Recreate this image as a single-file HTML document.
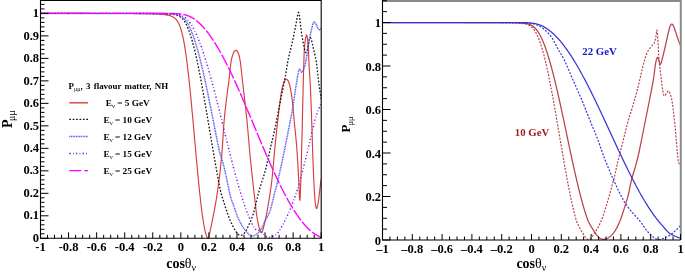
<!DOCTYPE html>
<html><head><meta charset="utf-8"><style>
html,body{margin:0;padding:0;background:#fff;width:685px;height:274px;overflow:hidden;}
svg{display:block;font-family:"Liberation Serif",serif;}
svg{will-change:transform;}
</style></head><body>
<svg width="685" height="274" viewBox="0 0 685 274">
<rect width="685" height="274" fill="#fff"/>
<defs><clipPath id="cl"><rect x="40.5" y="0" width="280.7" height="238.3"/></clipPath><clipPath id="cr"><rect x="382.5" y="0" width="298.0" height="240.0"/></clipPath></defs>
<g clip-path="url(#cl)" fill="none" stroke-width="1.1">
<path d="M40.50,13.42 L43.66,13.42 L46.82,13.42 L49.97,13.42 L53.13,13.42 L56.29,13.42 L59.45,13.42 L62.61,13.43 L65.76,13.43 L68.92,13.43 L72.08,13.43 L75.24,13.43 L78.39,13.44 L81.55,13.44 L84.71,13.44 L87.87,13.44 L91.03,13.45 L94.18,13.45 L97.34,13.45 L100.50,13.46 L103.66,13.46 L106.82,13.47 L109.97,13.47 L113.13,13.48 L116.29,13.49 L119.45,13.50 L122.60,13.51 L125.76,13.52 L128.92,13.53 L132.08,13.55 L135.24,13.57 L138.39,13.60 L141.55,13.63 L144.71,13.67 L147.87,13.73 L151.03,13.79 L154.18,13.89 L157.34,14.02 L160.50,14.20 L163.66,14.48 L166.11,14.81 L167.87,15.14 L169.27,15.48 L170.32,15.80 L171.20,16.11 L172.08,16.50 L172.78,16.85 L173.31,17.16 L173.83,17.50 L174.36,17.88 L174.89,18.30 L175.24,18.62 L175.59,18.96 L175.94,19.32 L176.29,19.72 L176.64,20.15 L176.99,20.61 L177.34,21.11 L177.69,21.65 L178.04,22.24 L178.22,22.55 L178.39,22.88 L178.57,23.21 L178.74,23.56 L178.92,23.92 L179.10,24.30 L179.27,24.69 L179.45,25.10 L179.62,25.52 L179.80,25.96 L179.97,26.41 L180.15,26.88 L180.32,27.37 L180.50,27.88 L180.67,28.40 L180.85,28.95 L181.03,29.51 L181.20,30.09 L181.38,30.69 L181.55,31.31 L181.73,31.96 L181.90,32.62 L182.08,33.31 L182.25,34.02 L182.43,34.75 L182.60,35.50 L182.78,36.27 L182.96,37.07 L183.13,37.90 L183.31,38.74 L183.48,39.62 L183.66,40.51 L183.83,41.43 L184.01,42.38 L184.18,43.35 L184.36,44.34 L184.53,45.36 L184.71,46.40 L184.89,47.47 L185.06,48.57 L185.24,49.69 L185.41,50.84 L185.59,52.01 L185.76,53.20 L185.94,54.43 L186.11,55.67 L186.29,56.94 L186.46,58.24 L186.64,59.56 L186.81,60.91 L186.99,62.28 L187.17,63.67 L187.34,65.09 L187.52,66.53 L187.69,67.99 L187.87,69.47 L188.04,70.98 L188.22,72.51 L188.39,74.07 L188.57,75.64 L188.74,77.23 L188.92,78.85 L189.10,80.48 L189.27,82.14 L189.45,83.81 L189.62,85.50 L189.80,87.21 L189.97,88.94 L190.15,90.69 L190.32,92.45 L190.50,94.22 L190.67,96.02 L190.85,97.82 L191.03,99.64 L191.20,101.48 L191.38,103.33 L191.55,105.19 L191.73,107.06 L191.90,108.94 L192.08,110.84 L192.25,112.74 L192.43,114.65 L192.60,116.57 L192.78,118.50 L192.96,120.44 L193.13,122.38 L193.31,124.33 L193.48,126.28 L193.66,128.24 L193.83,130.20 L194.01,132.16 L194.18,134.13 L194.36,136.10 L194.53,138.06 L194.71,140.03 L194.89,142.00 L195.06,143.97 L195.24,145.93 L195.41,147.89 L195.59,149.85 L195.76,151.80 L195.94,153.75 L196.11,155.69 L196.29,157.62 L196.46,159.55 L196.64,161.47 L196.81,163.38 L196.99,165.28 L197.17,167.17 L197.34,169.05 L197.52,170.92 L197.69,172.77 L197.87,174.62 L198.04,176.45 L198.22,178.26 L198.39,180.06 L198.57,181.84 L198.74,183.61 L198.92,185.36 L199.10,187.09 L199.27,188.80 L199.45,190.49 L199.62,192.16 L199.80,193.81 L199.97,195.45 L200.15,197.05 L200.32,198.64 L200.50,200.20 L200.67,201.74 L200.85,203.26 L201.03,204.74 L201.20,206.21 L201.38,207.65 L201.55,209.06 L201.73,210.44 L201.90,211.79 L202.08,213.12 L202.25,214.42 L202.43,215.69 L202.60,216.93 L202.78,218.13 L202.96,219.31 L203.13,220.46 L203.31,221.57 L203.48,222.65 L203.66,223.70 L203.83,224.71 L204.01,225.69 L204.18,226.64 L204.36,227.55 L204.53,228.43 L204.71,229.27 L204.88,230.08 L205.06,230.85 L205.24,231.58 L205.41,232.28 L205.59,232.94 L205.76,233.56 L205.94,234.15 L206.11,234.70 L206.29,235.21 L206.46,235.68 L206.64,236.11 L206.81,236.51 L206.99,236.86 L207.17,237.18 L207.52,237.70 L207.87,238.05 L208.57,238.30 L208.57,238.30 L209.21,235.36 L210.05,231.47 L211.03,226.83 L212.11,221.66 L213.22,216.18 L214.31,210.60 L215.32,205.13 L216.20,200.00 L216.97,195.08 L217.70,190.12 L218.39,185.12 L219.05,180.11 L219.66,175.07 L220.24,170.04 L220.79,165.01 L221.30,160.00 L221.77,154.90 L222.18,149.65 L222.55,144.34 L222.89,139.06 L223.22,133.90 L223.53,128.95 L223.86,124.28 L224.20,120.00 L224.56,116.09 L224.93,112.46 L225.29,109.09 L225.66,105.94 L226.01,102.98 L226.36,100.20 L226.69,97.54 L227.00,95.00 L227.29,92.67 L227.56,90.62 L227.81,88.77 L228.05,87.06 L228.29,85.41 L228.52,83.73 L228.76,81.95 L229.00,80.00 L229.25,77.83 L229.49,75.50 L229.73,73.07 L229.97,70.62 L230.21,68.22 L230.46,65.94 L230.73,63.84 L231.00,62.00 L231.29,60.40 L231.59,58.97 L231.91,57.69 L232.22,56.54 L232.55,55.52 L232.87,54.60 L233.19,53.76 L233.50,53.00 L233.81,52.32 L234.11,51.76 L234.41,51.29 L234.71,50.92 L235.01,50.64 L235.31,50.45 L235.61,50.34 L235.90,50.30 L236.19,50.34 L236.49,50.47 L236.78,50.68 L237.07,50.98 L237.36,51.36 L237.65,51.83 L237.93,52.37 L238.20,53.00 L238.46,53.67 L238.72,54.37 L238.96,55.13 L239.21,55.98 L239.45,56.96 L239.69,58.10 L239.94,59.44 L240.20,61.00 L240.45,62.71 L240.68,64.48 L240.91,66.40 L241.14,68.50 L241.40,70.85 L241.68,73.52 L242.01,76.54 L242.40,80.00 L242.86,84.00 L243.38,88.52 L243.96,93.46 L244.56,98.69 L245.18,104.08 L245.78,109.51 L246.36,114.86 L246.90,120.00 L247.39,125.00 L247.84,130.00 L248.28,135.00 L248.71,140.00 L249.13,145.00 L249.56,150.00 L250.02,155.00 L250.50,160.00 L251.02,165.14 L251.59,170.47 L252.17,175.88 L252.76,181.25 L253.35,186.46 L253.91,191.41 L254.43,195.96 L254.90,200.00 L255.30,203.51 L255.65,206.58 L255.95,209.29 L256.24,211.72 L256.52,213.93 L256.81,216.00 L257.13,218.00 L257.50,220.00 L257.92,222.09 L258.36,224.24 L258.83,226.34 L259.31,228.28 L259.81,229.97 L260.31,231.31 L260.81,232.19 L261.30,232.50 L261.79,232.19 L262.29,231.31 L262.80,229.97 L263.31,228.28 L263.81,226.34 L264.32,224.24 L264.81,222.09 L265.30,220.00 L265.78,217.86 L266.26,215.53 L266.74,213.05 L267.22,210.47 L267.68,207.83 L268.14,205.18 L268.58,202.55 L269.00,200.00 L269.40,197.55 L269.79,195.19 L270.16,192.85 L270.52,190.50 L270.87,188.09 L271.21,185.56 L271.56,182.88 L271.90,180.00 L272.24,176.83 L272.59,173.38 L272.92,169.74 L273.26,166.01 L273.58,162.27 L273.90,158.63 L274.21,155.18 L274.50,152.00 L274.77,149.20 L275.00,146.74 L275.21,144.49 L275.41,142.32 L275.63,140.10 L275.87,137.71 L276.16,135.02 L276.50,131.90 L276.91,128.19 L277.39,123.93 L277.91,119.32 L278.45,114.57 L279.00,109.86 L279.54,105.40 L280.04,101.38 L280.50,98.00 L280.91,95.23 L281.28,92.88 L281.62,90.88 L281.96,89.18 L282.28,87.69 L282.61,86.38 L282.94,85.17 L283.30,84.00 L283.67,82.90 L284.05,81.94 L284.44,81.12 L284.83,80.45 L285.22,79.93 L285.62,79.56 L286.01,79.35 L286.40,79.30 L286.79,79.41 L287.18,79.66 L287.58,80.07 L287.97,80.64 L288.37,81.36 L288.75,82.24 L289.13,83.29 L289.50,84.50 L289.86,85.89 L290.21,87.45 L290.56,89.18 L290.90,91.08 L291.23,93.11 L291.56,95.29 L291.88,97.59 L292.20,100.00 L292.51,102.59 L292.80,105.40 L293.09,108.38 L293.37,111.47 L293.66,114.63 L293.93,117.80 L294.22,120.94 L294.50,124.00 L294.79,126.96 L295.09,129.86 L295.38,132.74 L295.68,135.62 L295.97,138.56 L296.26,141.58 L296.54,144.71 L296.80,148.00 L297.05,151.51 L297.30,155.25 L297.54,159.14 L297.77,163.09 L297.99,167.04 L298.20,170.89 L298.41,174.57 L298.60,178.00 L298.78,181.48 L298.94,185.21 L299.10,188.96 L299.24,192.53 L299.38,195.69 L299.52,198.21 L299.66,199.89 L299.80,200.50 L299.94,199.89 L300.09,198.21 L300.23,195.69 L300.38,192.53 L300.51,188.96 L300.65,185.21 L300.78,181.48 L300.90,178.00 L301.01,174.63 L301.12,171.10 L301.22,167.43 L301.32,163.66 L301.41,159.80 L301.51,155.89 L301.60,151.94 L301.70,148.00 L301.80,144.00 L301.90,139.89 L302.00,135.71 L302.11,131.50 L302.21,127.29 L302.31,123.11 L302.40,119.00 L302.50,115.00 L302.59,111.04 L302.68,107.08 L302.77,103.13 L302.86,99.25 L302.95,95.46 L303.03,91.80 L303.12,88.30 L303.20,85.00 L303.28,81.92 L303.35,79.05 L303.42,76.33 L303.49,73.75 L303.56,71.26 L303.64,68.83 L303.72,66.42 L303.80,64.00 L303.88,61.56 L303.96,59.12 L304.03,56.72 L304.11,54.38 L304.20,52.11 L304.31,49.94 L304.44,47.89 L304.60,46.00 L304.80,44.14 L305.03,42.24 L305.28,40.40 L305.55,38.69 L305.83,37.21 L306.10,36.04 L306.36,35.27 L306.60,35.00 L306.82,35.27 L307.05,36.04 L307.26,37.21 L307.48,38.69 L307.68,40.40 L307.87,42.24 L308.04,44.14 L308.20,46.00 L308.34,47.93 L308.45,50.05 L308.55,52.33 L308.64,54.69 L308.72,57.09 L308.80,59.48 L308.90,61.80 L309.00,64.00 L309.12,66.09 L309.24,68.12 L309.37,70.10 L309.50,72.06 L309.63,74.01 L309.76,75.98 L309.88,77.97 L310.00,80.00 L310.11,81.97 L310.20,83.80 L310.30,85.60 L310.39,87.44 L310.48,89.41 L310.58,91.60 L310.68,94.10 L310.80,97.00 L310.93,100.45 L311.09,104.43 L311.25,108.77 L311.41,113.31 L311.58,117.87 L311.73,122.29 L311.88,126.39 L312.00,130.00 L312.10,133.05 L312.18,135.68 L312.24,138.01 L312.30,140.19 L312.36,142.34 L312.42,144.60 L312.50,147.11 L312.60,150.00 L312.72,153.34 L312.86,157.03 L313.01,160.96 L313.16,165.00 L313.32,169.04 L313.49,172.97 L313.65,176.66 L313.80,180.00 L313.95,183.06 L314.09,185.98 L314.24,188.74 L314.38,191.35 L314.53,193.79 L314.68,196.05 L314.84,198.12 L315.00,200.00 L315.17,201.71 L315.35,203.26 L315.53,204.65 L315.71,205.85 L315.90,206.84 L316.10,207.61 L316.30,208.14 L316.50,208.40 L316.71,208.39 L316.92,208.11 L317.14,207.59 L317.36,206.85 L317.58,205.90 L317.81,204.76 L318.05,203.46 L318.30,202.00 L318.56,200.22 L318.85,198.03 L319.15,195.57 L319.45,192.97 L319.75,190.38 L320.03,187.93 L320.28,185.76 L320.50,184.00 L320.69,182.63 L320.86,181.52 L321.01,180.61 L321.14,179.88 L321.25,179.28 L321.35,178.80 L321.43,178.38 L321.50,178.00" stroke="#d83c3c" stroke-width="1.15"/>
<path d="M40.50,13.40 L43.66,13.40 L46.82,13.40 L49.97,13.41 L53.13,13.41 L56.29,13.41 L59.45,13.41 L62.61,13.41 L65.76,13.41 L68.92,13.41 L72.08,13.41 L75.24,13.41 L78.39,13.41 L81.55,13.41 L84.71,13.41 L87.87,13.41 L91.03,13.41 L94.18,13.41 L97.34,13.41 L100.50,13.41 L103.66,13.41 L106.82,13.42 L109.97,13.42 L113.13,13.42 L116.29,13.42 L119.45,13.42 L122.60,13.43 L125.76,13.43 L128.92,13.43 L132.08,13.44 L135.24,13.44 L138.39,13.45 L141.55,13.46 L144.71,13.47 L147.87,13.48 L151.03,13.50 L154.18,13.52 L157.34,13.55 L160.50,13.60 L163.66,13.66 L166.81,13.77 L169.97,13.96 L172.96,14.27 L174.89,14.60 L176.29,14.94 L177.34,15.29 L178.22,15.65 L178.92,15.99 L179.62,16.38 L180.15,16.72 L180.67,17.11 L181.20,17.53 L181.55,17.84 L181.90,18.17 L182.25,18.53 L182.60,18.90 L182.96,19.31 L183.31,19.74 L183.66,20.19 L184.01,20.68 L184.36,21.19 L184.71,21.73 L185.06,22.30 L185.41,22.91 L185.59,23.22 L185.76,23.54 L185.94,23.87 L186.11,24.20 L186.29,24.54 L186.46,24.90 L186.64,25.26 L186.81,25.62 L186.99,26.00 L187.17,26.38 L187.34,26.77 L187.52,27.17 L187.69,27.58 L187.87,28.00 L188.04,28.42 L188.22,28.85 L188.39,29.29 L188.57,29.74 L188.74,30.20 L188.92,30.66 L189.10,31.14 L189.27,31.62 L189.45,32.11 L189.62,32.61 L189.80,33.11 L189.97,33.63 L190.15,34.15 L190.32,34.68 L190.50,35.22 L190.67,35.76 L190.85,36.32 L191.03,36.88 L191.20,37.45 L191.38,38.03 L191.55,38.62 L191.73,39.21 L191.90,39.81 L192.08,40.42 L192.25,41.04 L192.43,41.67 L192.60,42.30 L192.78,42.94 L192.96,43.59 L193.13,44.24 L193.31,44.91 L193.48,45.58 L193.66,46.26 L193.83,46.94 L194.01,47.64 L194.18,48.34 L194.36,49.04 L194.53,49.76 L194.71,50.48 L194.89,51.21 L195.06,51.95 L195.24,52.69 L195.41,53.44 L195.59,54.19 L195.76,54.96 L195.94,55.73 L196.11,56.50 L196.29,57.29 L196.46,58.08 L196.64,58.87 L196.81,59.67 L196.99,60.48 L197.17,61.30 L197.34,62.12 L197.52,62.94 L197.69,63.78 L197.87,64.62 L198.04,65.46 L198.22,66.31 L198.39,67.17 L198.57,68.03 L198.74,68.90 L198.92,69.77 L199.10,70.65 L199.27,71.53 L199.45,72.42 L199.62,73.32 L199.80,74.21 L199.97,75.12 L200.15,76.03 L200.32,76.94 L200.50,77.86 L200.67,78.78 L200.85,79.71 L201.03,80.64 L201.20,81.58 L201.38,82.52 L201.55,83.47 L201.73,84.42 L201.90,85.37 L202.08,86.33 L202.25,87.29 L202.43,88.26 L202.60,89.23 L202.78,90.20 L202.96,91.18 L203.13,92.16 L203.31,93.14 L203.48,94.13 L203.66,95.12 L203.83,96.11 L204.01,97.11 L204.18,98.11 L204.36,99.11 L204.53,100.12 L204.71,101.12 L204.88,102.13 L205.06,103.15 L205.24,104.16 L205.41,105.18 L205.59,106.20 L205.76,107.22 L205.94,108.24 L206.11,109.27 L206.29,110.30 L206.46,111.33 L206.64,112.36 L206.81,113.39 L206.99,114.42 L207.17,115.46 L207.34,116.50 L207.52,117.54 L207.69,118.57 L207.87,119.61 L208.04,120.66 L208.22,121.70 L208.39,122.74 L208.57,123.78 L208.74,124.83 L208.92,125.87 L209.10,126.92 L209.27,127.96 L209.45,129.00 L209.62,130.05 L209.80,131.09 L209.97,132.14 L210.15,133.18 L210.32,134.23 L210.50,135.27 L210.67,136.31 L210.85,137.36 L211.03,138.40 L211.20,139.44 L211.38,140.48 L211.55,141.52 L211.73,142.56 L211.90,143.59 L212.08,144.63 L212.25,145.66 L212.43,146.70 L212.60,147.73 L212.78,148.76 L212.96,149.78 L213.13,150.81 L213.31,151.83 L213.48,152.85 L213.66,153.87 L213.83,154.89 L214.01,155.91 L214.18,156.92 L214.36,157.93 L214.53,158.94 L214.71,159.94 L214.88,160.94 L215.06,161.94 L215.24,162.94 L215.41,163.93 L215.59,164.92 L215.76,165.91 L215.94,166.89 L216.11,167.87 L216.29,168.85 L216.46,169.82 L216.64,170.79 L216.81,171.75 L216.99,172.71 L217.17,173.67 L217.34,174.62 L217.52,175.57 L217.69,176.52 L217.87,177.46 L218.04,178.39 L218.22,179.33 L218.39,180.25 L218.57,181.18 L218.74,182.09 L218.92,183.01 L219.10,183.91 L219.27,184.82 L219.45,185.71 L219.62,186.61 L219.80,187.49 L219.97,188.38 L220.15,189.25 L220.32,190.12 L220.50,190.99 L220.67,191.85 L220.85,192.70 L220.85,192.70 L221.32,194.23 L221.96,196.27 L222.70,198.68 L223.53,201.33 L224.39,204.07 L225.25,206.75 L226.07,209.24 L226.80,211.40 L227.46,213.28 L228.10,215.03 L228.71,216.67 L229.31,218.22 L229.90,219.69 L230.49,221.10 L231.09,222.47 L231.70,223.80 L232.33,225.11 L232.97,226.39 L233.62,227.63 L234.26,228.80 L234.90,229.90 L235.52,230.91 L236.13,231.81 L236.70,232.60 L237.24,233.28 L237.74,233.86 L238.23,234.35 L238.69,234.74 L239.16,235.05 L239.62,235.26 L240.10,235.37 L240.60,235.40 L241.12,235.33 L241.64,235.17 L242.17,234.92 L242.71,234.58 L243.25,234.14 L243.79,233.61 L244.35,233.00 L244.90,232.30 L245.47,231.48 L246.05,230.51 L246.64,229.44 L247.24,228.28 L247.83,227.08 L248.41,225.86 L248.97,224.66 L249.50,223.50 L250.01,222.37 L250.52,221.24 L251.01,220.11 L251.48,218.96 L251.94,217.81 L252.38,216.65 L252.80,215.48 L253.20,214.30 L253.57,213.10 L253.91,211.89 L254.23,210.67 L254.53,209.44 L254.82,208.21 L255.11,206.97 L255.40,205.73 L255.70,204.50 L256.00,203.28 L256.29,202.07 L256.57,200.87 L256.85,199.66 L257.14,198.43 L257.44,197.19 L257.76,195.91 L258.10,194.60 L258.46,193.25 L258.84,191.87 L259.24,190.47 L259.64,189.05 L260.06,187.60 L260.50,186.12 L260.94,184.62 L261.40,183.10 L261.87,181.59 L262.36,180.10 L262.86,178.61 L263.38,177.08 L263.90,175.49 L264.43,173.80 L264.96,171.98 L265.50,170.00 L266.04,167.83 L266.59,165.49 L267.15,163.01 L267.72,160.43 L268.29,157.80 L268.86,155.16 L269.43,152.55 L270.00,150.00 L270.57,147.53 L271.13,145.12 L271.70,142.72 L272.27,140.31 L272.84,137.87 L273.42,135.35 L274.01,132.74 L274.60,130.00 L275.21,127.11 L275.82,124.10 L276.45,120.99 L277.08,117.81 L277.71,114.59 L278.34,111.37 L278.97,108.16 L279.60,105.00 L280.25,101.77 L280.93,98.40 L281.62,94.97 L282.30,91.56 L282.96,88.28 L283.58,85.20 L284.13,82.41 L284.60,80.00 L284.98,78.05 L285.27,76.49 L285.50,75.24 L285.68,74.19 L285.84,73.24 L286.00,72.29 L286.18,71.24 L286.40,70.00 L286.63,68.64 L286.85,67.28 L287.07,65.91 L287.29,64.50 L287.54,63.03 L287.81,61.47 L288.13,59.80 L288.50,58.00 L288.94,56.02 L289.45,53.88 L290.00,51.60 L290.58,49.25 L291.17,46.87 L291.75,44.50 L292.30,42.20 L292.80,40.00 L293.26,37.87 L293.69,35.76 L294.11,33.66 L294.51,31.60 L294.89,29.59 L295.27,27.64 L295.64,25.78 L296.00,24.00 L296.36,22.17 L296.71,20.20 L297.05,18.23 L297.38,16.36 L297.70,14.73 L298.01,13.44 L298.31,12.62 L298.60,12.40 L298.88,12.88 L299.14,14.00 L299.40,15.60 L299.64,17.55 L299.88,19.69 L300.12,21.88 L300.36,23.96 L300.60,25.80 L300.84,27.48 L301.08,29.18 L301.31,30.88 L301.54,32.58 L301.78,34.26 L302.01,35.89 L302.25,37.48 L302.50,39.00 L302.76,40.49 L303.03,41.99 L303.31,43.46 L303.59,44.89 L303.87,46.23 L304.13,47.47 L304.38,48.56 L304.60,49.50 L304.79,50.27 L304.96,50.91 L305.11,51.42 L305.24,51.81 L305.37,52.11 L305.51,52.31 L305.65,52.44 L305.80,52.50 L305.96,52.49 L306.13,52.39 L306.30,52.21 L306.47,51.94 L306.65,51.58 L306.83,51.14 L307.01,50.61 L307.20,50.00 L307.39,49.24 L307.59,48.30 L307.79,47.25 L307.99,46.12 L308.20,44.99 L308.40,43.88 L308.60,42.87 L308.80,42.00 L308.99,41.20 L309.17,40.39 L309.35,39.62 L309.53,38.91 L309.71,38.30 L309.90,37.84 L310.09,37.56 L310.30,37.50 L310.52,37.71 L310.76,38.16 L311.01,38.81 L311.26,39.59 L311.51,40.46 L311.76,41.36 L311.99,42.22 L312.20,43.00 L312.39,43.72 L312.56,44.44 L312.71,45.17 L312.86,45.91 L313.01,46.65 L313.16,47.42 L313.32,48.20 L313.50,49.00 L313.70,49.83 L313.91,50.68 L314.13,51.55 L314.35,52.44 L314.57,53.33 L314.79,54.23 L315.00,55.12 L315.20,56.00 L315.38,56.86 L315.56,57.69 L315.73,58.52 L315.89,59.34 L316.04,60.19 L316.20,61.07 L316.35,62.01 L316.50,63.00 L316.65,64.06 L316.79,65.18 L316.92,66.34 L317.06,67.53 L317.19,68.75 L317.32,70.00 L317.46,71.25 L317.60,72.50 L317.74,73.77 L317.89,75.07 L318.03,76.39 L318.18,77.72 L318.32,79.06 L318.48,80.39 L318.63,81.70 L318.80,83.00 L318.98,84.29 L319.16,85.61 L319.35,86.92 L319.55,88.22 L319.75,89.49 L319.94,90.72 L320.12,91.90 L320.30,93.00 L320.47,94.07 L320.65,95.12 L320.82,96.15 L320.99,97.12 L321.15,98.02 L321.29,98.81 L321.41,99.48 L321.50,100.00" stroke="#151515" stroke-width="1.3" stroke-dasharray="1.7,1.7"/>
<path d="M40.50,13.40 L43.66,13.40 L46.82,13.40 L49.97,13.40 L53.13,13.40 L56.29,13.40 L59.45,13.40 L62.61,13.40 L65.76,13.40 L68.92,13.41 L72.08,13.41 L75.24,13.41 L78.39,13.41 L81.55,13.41 L84.71,13.41 L87.87,13.41 L91.03,13.41 L94.18,13.41 L97.34,13.41 L100.50,13.41 L103.66,13.41 L106.82,13.41 L109.97,13.41 L113.13,13.41 L116.29,13.42 L119.45,13.42 L122.60,13.42 L125.76,13.42 L128.92,13.42 L132.08,13.43 L135.24,13.43 L138.39,13.43 L141.55,13.44 L144.71,13.45 L147.87,13.46 L151.03,13.47 L154.18,13.48 L157.34,13.51 L160.50,13.54 L163.66,13.59 L166.81,13.67 L169.97,13.80 L173.13,14.04 L175.41,14.34 L176.99,14.66 L178.22,15.01 L179.10,15.32 L179.97,15.70 L180.67,16.05 L181.20,16.36 L181.73,16.70 L182.25,17.07 L182.78,17.49 L183.31,17.95 L183.66,18.27 L184.01,18.62 L184.36,18.99 L184.71,19.38 L185.06,19.79 L185.41,20.23 L185.76,20.68 L186.11,21.16 L186.46,21.66 L186.81,22.19 L187.17,22.74 L187.52,23.31 L187.87,23.91 L188.04,24.21 L188.22,24.53 L188.39,24.85 L188.57,25.17 L188.74,25.50 L188.92,25.84 L189.10,26.18 L189.27,26.53 L189.45,26.89 L189.62,27.25 L189.80,27.62 L189.97,27.99 L190.15,28.37 L190.32,28.76 L190.50,29.15 L190.67,29.55 L190.85,29.96 L191.03,30.37 L191.20,30.78 L191.38,31.21 L191.55,31.64 L191.73,32.07 L191.90,32.51 L192.08,32.96 L192.25,33.41 L192.43,33.87 L192.60,34.34 L192.78,34.81 L192.96,35.28 L193.13,35.76 L193.31,36.25 L193.48,36.75 L193.66,37.25 L193.83,37.75 L194.01,38.26 L194.18,38.78 L194.36,39.30 L194.53,39.83 L194.71,40.37 L194.89,40.91 L195.06,41.45 L195.24,42.00 L195.41,42.56 L195.59,43.12 L195.76,43.69 L195.94,44.26 L196.11,44.84 L196.29,45.42 L196.46,46.01 L196.64,46.61 L196.81,47.21 L196.99,47.81 L197.17,48.42 L197.34,49.04 L197.52,49.66 L197.69,50.28 L197.87,50.91 L198.04,51.55 L198.22,52.19 L198.39,52.83 L198.57,53.48 L198.74,54.14 L198.92,54.80 L199.10,55.46 L199.27,56.13 L199.45,56.80 L199.62,57.48 L199.80,58.17 L199.97,58.85 L200.15,59.55 L200.32,60.24 L200.50,60.94 L200.67,61.65 L200.85,62.36 L201.03,63.07 L201.20,63.79 L201.38,64.52 L201.55,65.24 L201.73,65.97 L201.90,66.71 L202.08,67.45 L202.25,68.19 L202.43,68.94 L202.60,69.69 L202.78,70.44 L202.96,71.20 L203.13,71.96 L203.31,72.73 L203.48,73.50 L203.66,74.27 L203.83,75.05 L204.01,75.83 L204.18,76.61 L204.36,77.40 L204.53,78.19 L204.71,78.98 L204.88,79.78 L205.06,80.58 L205.24,81.38 L205.41,82.19 L205.59,83.00 L205.76,83.81 L205.94,84.62 L206.11,85.44 L206.29,86.26 L206.46,87.09 L206.64,87.91 L206.81,88.74 L206.99,89.57 L207.17,90.41 L207.34,91.24 L207.52,92.08 L207.69,92.92 L207.87,93.77 L208.04,94.61 L208.22,95.46 L208.39,96.31 L208.57,97.16 L208.74,98.02 L208.92,98.87 L209.10,99.73 L209.27,100.59 L209.45,101.45 L209.62,102.32 L209.80,103.18 L209.97,104.05 L210.15,104.92 L210.32,105.79 L210.50,106.66 L210.67,107.53 L210.85,108.41 L211.03,109.28 L211.20,110.16 L211.38,111.04 L211.55,111.92 L211.73,112.80 L211.90,113.68 L212.08,114.56 L212.25,115.45 L212.43,116.33 L212.60,117.22 L212.78,118.10 L212.96,118.99 L213.13,119.88 L213.31,120.76 L213.48,121.65 L213.66,122.54 L213.83,123.43 L214.01,124.32 L214.18,125.21 L214.36,126.10 L214.53,126.99 L214.71,127.88 L214.88,128.77 L215.06,129.66 L215.24,130.55 L215.41,131.44 L215.59,132.33 L215.76,133.22 L215.94,134.11 L216.11,135.00 L216.29,135.89 L216.46,136.77 L216.64,137.66 L216.81,138.55 L216.99,139.43 L217.17,140.32 L217.34,141.20 L217.52,142.09 L217.69,142.97 L217.87,143.85 L218.04,144.73 L218.22,145.61 L218.39,146.49 L218.57,147.37 L218.74,148.25 L218.92,149.12 L219.10,150.00 L219.27,150.87 L219.27,150.87 L219.66,152.17 L220.17,153.80 L220.77,155.71 L221.43,157.86 L222.14,160.21 L222.87,162.73 L223.60,165.37 L224.30,168.10 L225.01,171.12 L225.75,174.54 L226.53,178.23 L227.31,182.01 L228.07,185.73 L228.81,189.24 L229.49,192.38 L230.10,195.00 L230.63,197.04 L231.08,198.63 L231.49,199.89 L231.86,200.91 L232.21,201.82 L232.58,202.71 L232.97,203.70 L233.40,204.90 L233.87,206.27 L234.35,207.70 L234.84,209.17 L235.35,210.65 L235.87,212.13 L236.40,213.60 L236.94,215.03 L237.50,216.40 L238.07,217.74 L238.67,219.07 L239.27,220.38 L239.89,221.66 L240.52,222.91 L241.15,224.10 L241.78,225.24 L242.40,226.30 L243.02,227.30 L243.65,228.24 L244.27,229.13 L244.90,229.96 L245.53,230.75 L246.15,231.48 L246.78,232.16 L247.40,232.80 L248.02,233.40 L248.63,233.98 L249.24,234.52 L249.86,235.01 L250.47,235.42 L251.08,235.75 L251.69,235.98 L252.30,236.10 L252.92,236.09 L253.54,235.96 L254.17,235.73 L254.80,235.42 L255.42,235.04 L256.03,234.62 L256.63,234.16 L257.20,233.70 L257.75,233.22 L258.28,232.72 L258.79,232.18 L259.29,231.59 L259.79,230.96 L260.29,230.27 L260.79,229.52 L261.30,228.70 L261.82,227.78 L262.35,226.77 L262.87,225.68 L263.40,224.54 L263.93,223.37 L264.45,222.21 L264.98,221.08 L265.50,220.00 L266.02,218.99 L266.55,218.04 L267.08,217.12 L267.60,216.21 L268.12,215.26 L268.63,214.26 L269.12,213.19 L269.60,212.00 L270.07,210.66 L270.54,209.16 L271.01,207.57 L271.46,205.94 L271.89,204.31 L272.29,202.74 L272.67,201.29 L273.00,200.00 L273.27,198.93 L273.48,198.04 L273.65,197.27 L273.80,196.56 L273.95,195.84 L274.12,195.05 L274.33,194.13 L274.60,193.00 L274.92,191.74 L275.27,190.45 L275.65,189.09 L276.06,187.62 L276.49,186.02 L276.96,184.23 L277.46,182.24 L278.00,180.00 L278.59,177.45 L279.24,174.59 L279.93,171.50 L280.65,168.25 L281.38,164.90 L282.11,161.53 L282.82,158.21 L283.50,155.00 L284.15,151.85 L284.80,148.68 L285.45,145.49 L286.08,142.31 L286.71,139.16 L287.32,136.04 L287.92,132.98 L288.50,130.00 L289.07,127.11 L289.63,124.29 L290.17,121.53 L290.71,118.81 L291.23,116.12 L291.73,113.43 L292.22,110.73 L292.70,108.00 L293.16,105.21 L293.59,102.37 L294.01,99.50 L294.42,96.65 L294.82,93.84 L295.21,91.11 L295.60,88.48 L296.00,86.00 L296.40,83.55 L296.80,81.06 L297.19,78.60 L297.59,76.26 L297.98,74.10 L298.36,72.23 L298.73,70.70 L299.10,69.60 L299.46,69.08 L299.81,69.12 L300.15,69.57 L300.48,70.26 L300.81,71.03 L301.14,71.74 L301.47,72.21 L301.80,72.30 L302.14,72.03 L302.48,71.58 L302.82,70.97 L303.16,70.26 L303.50,69.46 L303.82,68.63 L304.12,67.80 L304.40,67.00 L304.65,66.28 L304.86,65.64 L305.05,65.00 L305.23,64.33 L305.41,63.54 L305.61,62.60 L305.84,61.44 L306.10,60.00 L306.41,58.18 L306.76,55.99 L307.13,53.54 L307.52,50.95 L307.92,48.33 L308.30,45.81 L308.67,43.49 L309.00,41.50 L309.30,39.82 L309.57,38.34 L309.82,37.02 L310.07,35.81 L310.31,34.68 L310.56,33.58 L310.82,32.47 L311.10,31.30 L311.40,30.03 L311.72,28.68 L312.04,27.31 L312.38,25.97 L312.71,24.73 L313.05,23.65 L313.38,22.78 L313.70,22.20 L314.02,21.92 L314.33,21.91 L314.64,22.10 L314.94,22.46 L315.25,22.92 L315.56,23.45 L315.88,24.00 L316.20,24.50 L316.53,25.06 L316.86,25.76 L317.20,26.54 L317.54,27.35 L317.89,28.13 L318.23,28.82 L318.57,29.36 L318.90,29.70 L319.25,29.81 L319.62,29.72 L320.00,29.49 L320.37,29.17 L320.72,28.82 L321.04,28.47 L321.30,28.18 L321.50,28.00" stroke="#5252f2" stroke-width="1.5" stroke-dasharray="1,0.65"/>
<path d="M40.50,13.40 L43.66,13.40 L46.82,13.40 L49.97,13.40 L53.13,13.40 L56.29,13.40 L59.45,13.40 L62.61,13.40 L65.76,13.40 L68.92,13.40 L72.08,13.40 L75.24,13.40 L78.39,13.40 L81.55,13.40 L84.71,13.40 L87.87,13.40 L91.03,13.41 L94.18,13.41 L97.34,13.41 L100.50,13.41 L103.66,13.41 L106.82,13.41 L109.97,13.41 L113.13,13.41 L116.29,13.41 L119.45,13.41 L122.60,13.41 L125.76,13.41 L128.92,13.41 L132.08,13.42 L135.24,13.42 L138.39,13.42 L141.55,13.43 L144.71,13.43 L147.87,13.44 L151.03,13.44 L154.18,13.45 L157.34,13.47 L160.50,13.49 L163.66,13.52 L166.81,13.57 L169.97,13.65 L173.13,13.81 L176.29,14.11 L178.22,14.43 L179.62,14.76 L180.67,15.09 L181.55,15.43 L182.25,15.75 L182.96,16.11 L183.48,16.41 L184.01,16.74 L184.53,17.10 L185.06,17.49 L185.59,17.91 L185.94,18.21 L186.29,18.53 L186.64,18.86 L186.99,19.20 L187.34,19.56 L187.69,19.94 L188.04,20.33 L188.39,20.74 L188.74,21.16 L189.10,21.61 L189.45,22.06 L189.80,22.53 L190.15,23.02 L190.50,23.53 L190.85,24.05 L191.20,24.59 L191.55,25.14 L191.90,25.71 L192.25,26.30 L192.60,26.90 L192.78,27.21 L192.96,27.52 L193.13,27.83 L193.31,28.15 L193.48,28.48 L193.66,28.80 L193.83,29.13 L194.01,29.47 L194.18,29.81 L194.36,30.15 L194.53,30.50 L194.71,30.85 L194.89,31.21 L195.06,31.56 L195.24,31.93 L195.41,32.29 L195.59,32.66 L195.76,33.04 L195.94,33.42 L196.11,33.80 L196.29,34.19 L196.46,34.58 L196.64,34.97 L196.81,35.37 L196.99,35.77 L197.17,36.17 L197.34,36.58 L197.52,36.99 L197.69,37.41 L197.87,37.83 L198.04,38.25 L198.22,38.68 L198.39,39.11 L198.57,39.55 L198.74,39.98 L198.92,40.43 L199.10,40.87 L199.27,41.32 L199.45,41.77 L199.62,42.23 L199.80,42.69 L199.97,43.15 L200.15,43.62 L200.32,44.09 L200.50,44.56 L200.67,45.04 L200.85,45.52 L201.03,46.00 L201.20,46.49 L201.38,46.98 L201.55,47.47 L201.73,47.97 L201.90,48.47 L202.08,48.97 L202.25,49.48 L202.43,49.99 L202.60,50.50 L202.78,51.02 L202.96,51.54 L203.13,52.06 L203.31,52.59 L203.48,53.12 L203.66,53.65 L203.83,54.18 L204.01,54.72 L204.18,55.26 L204.36,55.81 L204.53,56.36 L204.71,56.91 L204.88,57.46 L205.06,58.01 L205.24,58.57 L205.41,59.14 L205.59,59.70 L205.76,60.27 L205.94,60.84 L206.11,61.41 L206.29,61.99 L206.46,62.56 L206.64,63.15 L206.81,63.73 L206.99,64.32 L207.17,64.91 L207.34,65.50 L207.52,66.09 L207.69,66.69 L207.87,67.29 L208.04,67.89 L208.22,68.49 L208.39,69.10 L208.57,69.71 L208.74,70.32 L208.92,70.94 L209.10,71.55 L209.27,72.17 L209.45,72.79 L209.62,73.42 L209.80,74.04 L209.97,74.67 L210.15,75.30 L210.32,75.93 L210.50,76.57 L210.67,77.20 L210.85,77.84 L211.03,78.48 L211.20,79.12 L211.38,79.77 L211.55,80.41 L211.73,81.06 L211.90,81.71 L212.08,82.37 L212.25,83.02 L212.43,83.68 L212.60,84.33 L212.78,84.99 L212.96,85.66 L213.13,86.32 L213.31,86.98 L213.48,87.65 L213.66,88.32 L213.83,88.99 L214.01,89.66 L214.18,90.34 L214.36,91.01 L214.53,91.69 L214.71,92.36 L214.88,93.04 L215.06,93.72 L215.24,94.41 L215.41,95.09 L215.59,95.77 L215.76,96.46 L215.94,97.15 L216.11,97.84 L216.29,98.53 L216.46,99.22 L216.64,99.91 L216.81,100.60 L216.99,101.30 L217.17,101.99 L217.34,102.69 L217.52,103.39 L217.69,104.09 L217.87,104.79 L218.04,105.49 L218.22,106.19 L218.39,106.89 L218.57,107.60 L218.74,108.30 L218.92,109.01 L219.10,109.71 L219.27,110.42 L219.45,111.13 L219.62,111.83 L219.80,112.54 L219.97,113.25 L220.15,113.96 L220.32,114.67 L220.50,115.38 L220.67,116.10 L220.85,116.81 L221.03,117.52 L221.20,118.23 L221.38,118.95 L221.55,119.66 L221.73,120.37 L221.90,121.09 L222.08,121.80 L222.25,122.52 L222.43,123.23 L222.60,123.95 L222.78,124.66 L222.96,125.38 L223.13,126.09 L223.31,126.81 L223.48,127.53 L223.66,128.24 L223.83,128.96 L224.01,129.67 L224.18,130.39 L224.36,131.10 L224.53,131.82 L224.71,132.53 L224.88,133.25 L225.06,133.96 L225.24,134.68 L225.41,135.39 L225.59,136.10 L225.76,136.82 L225.94,137.53 L226.11,138.24 L226.29,138.96 L226.46,139.67 L226.64,140.38 L226.81,141.09 L226.99,141.80 L227.17,142.51 L227.34,143.22 L227.52,143.93 L227.69,144.63 L227.87,145.34 L228.04,146.05 L228.22,146.75 L228.39,147.46 L228.57,148.16 L228.74,148.86 L228.92,149.56 L229.10,150.26 L229.27,150.96 L229.45,151.66 L229.62,152.36 L229.80,153.06 L229.97,153.75 L230.15,154.45 L230.32,155.14 L230.50,155.84 L230.67,156.53 L230.85,157.22 L231.03,157.91 L231.20,158.59 L231.38,159.28 L231.55,159.97 L231.73,160.65 L231.90,161.33 L232.08,162.01 L232.25,162.69 L232.43,163.37 L232.60,164.05 L232.78,164.72 L232.95,165.40 L233.13,166.07 L233.31,166.74 L233.48,167.41 L233.66,168.07 L233.83,168.74 L234.01,169.40 L234.18,170.06 L234.36,170.72 L234.53,171.38 L234.71,172.04 L234.88,172.69 L235.06,173.35 L235.24,174.00 L235.41,174.65 L235.59,175.29 L235.76,175.94 L235.94,176.58 L236.11,177.22 L236.29,177.86 L236.46,178.50 L236.64,179.13 L236.81,179.76 L236.99,180.39 L237.17,181.02 L237.34,181.65 L237.52,182.27 L237.69,182.89 L237.87,183.51 L238.04,184.13 L238.22,184.74 L238.39,185.35 L238.57,185.96 L238.74,186.57 L238.92,187.18 L239.10,187.78 L239.27,188.38 L239.45,188.97 L239.62,189.57 L239.80,190.16 L239.97,190.75 L240.15,191.34 L240.32,191.92 L240.50,192.50 L240.67,193.08 L240.85,193.66 L241.03,194.23 L241.20,194.80 L241.38,195.37 L241.55,195.93 L241.73,196.49 L241.90,197.05 L242.08,197.61 L242.25,198.16 L242.43,198.71 L242.60,199.26 L242.78,199.80 L242.95,200.34 L243.13,200.88 L243.31,201.42 L243.48,201.95 L243.66,202.48 L243.83,203.00 L244.01,203.53 L244.18,204.05 L244.36,204.56 L244.53,205.07 L244.71,205.58 L244.88,206.09 L245.06,206.59 L245.24,207.09 L245.41,207.59 L245.59,208.08 L245.76,208.57 L245.94,209.06 L246.11,209.54 L246.29,210.02 L246.46,210.50 L246.64,210.97 L246.81,211.44 L246.99,211.91 L247.17,212.37 L247.34,212.83 L247.52,213.28 L247.69,213.73 L247.87,214.18 L248.04,214.63 L248.22,215.07 L248.39,215.50 L248.57,215.94 L248.74,216.37 L248.92,216.79 L249.10,217.22 L249.27,217.63 L249.45,218.05 L249.62,218.46 L249.80,218.87 L249.97,219.27 L250.15,219.67 L250.32,220.07 L250.50,220.46 L250.67,220.85 L250.85,221.23 L251.02,221.61 L251.20,221.99 L251.38,222.36 L251.55,222.73 L251.73,223.09 L251.90,223.45 L252.08,223.81 L252.25,224.16 L252.43,224.51 L252.60,224.85 L252.78,225.19 L252.95,225.53 L253.13,225.86 L253.31,226.19 L253.48,226.51 L253.66,226.83 L253.83,227.15 L254.01,227.46 L254.18,227.76 L254.36,228.07 L254.71,228.66 L255.06,229.24 L255.06,229.24 L255.45,229.37 L255.93,229.50 L256.49,229.63 L257.13,229.79 L257.81,229.99 L258.53,230.25 L259.26,230.58 L260.00,231.00 L260.78,231.57 L261.62,232.31 L262.51,233.14 L263.41,234.02 L264.32,234.89 L265.20,235.68 L266.04,236.33 L266.80,236.80 L267.49,237.08 L268.13,237.22 L268.73,237.25 L269.29,237.19 L269.84,237.08 L270.39,236.92 L270.94,236.76 L271.50,236.60 L272.08,236.44 L272.66,236.25 L273.25,236.04 L273.82,235.79 L274.39,235.51 L274.95,235.20 L275.49,234.87 L276.00,234.50 L276.49,234.10 L276.95,233.68 L277.39,233.23 L277.81,232.74 L278.23,232.23 L278.65,231.69 L279.07,231.11 L279.50,230.50 L279.91,229.91 L280.29,229.36 L280.65,228.80 L281.02,228.20 L281.42,227.51 L281.86,226.69 L282.39,225.70 L283.00,224.50 L283.72,223.07 L284.54,221.46 L285.42,219.68 L286.36,217.78 L287.33,215.76 L288.31,213.65 L289.27,211.49 L290.20,209.30 L291.12,207.03 L292.06,204.64 L293.01,202.16 L293.96,199.61 L294.89,197.02 L295.80,194.42 L296.67,191.84 L297.50,189.30 L298.27,186.80 L299.00,184.32 L299.69,181.85 L300.36,179.37 L301.02,176.87 L301.67,174.35 L302.32,171.80 L303.00,169.20 L303.70,166.51 L304.42,163.71 L305.15,160.85 L305.88,157.98 L306.58,155.14 L307.27,152.39 L307.91,149.76 L308.50,147.30 L309.03,145.03 L309.50,142.90 L309.94,140.89 L310.34,138.97 L310.74,137.10 L311.14,135.25 L311.55,133.40 L312.00,131.50 L312.47,129.58 L312.93,127.68 L313.40,125.80 L313.88,123.92 L314.37,122.06 L314.88,120.20 L315.42,118.35 L316.00,116.50 L316.65,114.56 L317.40,112.48 L318.19,110.35 L319.00,108.26 L319.77,106.29 L320.48,104.51 L321.07,103.02 L321.50,101.90" stroke="#7b1fe0" stroke-width="1.4" stroke-dasharray="1.5,2.15,0.8,2.15"/>
<path d="M40.50,13.40 L43.66,13.40 L46.82,13.40 L49.97,13.40 L53.13,13.40 L56.29,13.40 L59.45,13.40 L62.61,13.40 L65.76,13.40 L68.92,13.40 L72.08,13.40 L75.24,13.40 L78.39,13.40 L81.55,13.40 L84.71,13.40 L87.87,13.40 L91.03,13.40 L94.18,13.40 L97.34,13.40 L100.50,13.40 L103.66,13.40 L106.82,13.40 L109.97,13.40 L113.13,13.40 L116.29,13.40 L119.45,13.40 L122.60,13.40 L125.76,13.40 L128.92,13.41 L132.08,13.41 L135.24,13.41 L138.39,13.41 L141.55,13.41 L144.71,13.41 L147.87,13.41 L151.03,13.41 L154.18,13.42 L157.34,13.42 L160.50,13.43 L163.66,13.44 L166.81,13.46 L169.97,13.49 L173.13,13.54 L176.29,13.64 L179.45,13.84 L182.08,14.17 L183.83,14.49 L185.24,14.83 L186.29,15.14 L187.34,15.49 L188.22,15.83 L189.10,16.19 L189.80,16.51 L190.50,16.86 L191.20,17.22 L191.90,17.61 L192.43,17.92 L192.96,18.24 L193.48,18.57 L194.01,18.92 L194.53,19.28 L195.06,19.65 L195.59,20.04 L196.11,20.44 L196.64,20.85 L197.17,21.27 L197.69,21.71 L198.22,22.16 L198.57,22.47 L198.92,22.79 L199.27,23.11 L199.62,23.43 L199.97,23.76 L200.32,24.10 L200.67,24.44 L201.03,24.79 L201.38,25.15 L201.73,25.51 L202.08,25.87 L202.43,26.24 L202.78,26.62 L203.13,27.00 L203.48,27.39 L203.83,27.78 L204.18,28.18 L204.53,28.59 L204.88,29.00 L205.24,29.41 L205.59,29.83 L205.94,30.26 L206.29,30.69 L206.64,31.13 L206.99,31.57 L207.34,32.02 L207.69,32.47 L208.04,32.93 L208.39,33.39 L208.74,33.86 L209.10,34.33 L209.45,34.81 L209.80,35.30 L210.15,35.79 L210.50,36.28 L210.85,36.78 L211.20,37.28 L211.55,37.79 L211.90,38.31 L212.25,38.83 L212.60,39.35 L212.96,39.88 L213.31,40.42 L213.66,40.95 L214.01,41.50 L214.36,42.05 L214.71,42.60 L215.06,43.16 L215.41,43.72 L215.76,44.29 L216.11,44.86 L216.46,45.43 L216.81,46.02 L217.17,46.60 L217.52,47.19 L217.87,47.78 L218.22,48.38 L218.39,48.68 L218.57,48.99 L218.74,49.29 L218.92,49.59 L219.10,49.90 L219.27,50.21 L219.45,50.51 L219.62,50.82 L219.80,51.13 L219.97,51.44 L220.15,51.75 L220.32,52.07 L220.50,52.38 L220.67,52.70 L220.85,53.01 L221.03,53.33 L221.20,53.65 L221.38,53.96 L221.55,54.28 L221.73,54.61 L221.90,54.93 L222.08,55.25 L222.25,55.57 L222.43,55.90 L222.60,56.23 L222.78,56.55 L222.96,56.88 L223.13,57.21 L223.31,57.54 L223.48,57.87 L223.66,58.20 L223.83,58.54 L224.01,58.87 L224.18,59.20 L224.36,59.54 L224.53,59.88 L224.71,60.21 L224.88,60.55 L225.06,60.89 L225.24,61.23 L225.41,61.57 L225.59,61.92 L225.76,62.26 L225.94,62.60 L226.11,62.95 L226.29,63.29 L226.46,63.64 L226.64,63.99 L226.81,64.34 L226.99,64.68 L227.17,65.03 L227.34,65.39 L227.52,65.74 L227.69,66.09 L227.87,66.44 L228.04,66.80 L228.22,67.15 L228.39,67.51 L228.57,67.87 L228.74,68.22 L228.92,68.58 L229.10,68.94 L229.27,69.30 L229.45,69.66 L229.62,70.02 L229.80,70.39 L229.97,70.75 L230.15,71.11 L230.32,71.48 L230.50,71.85 L230.67,72.21 L230.85,72.58 L231.03,72.95 L231.20,73.32 L231.38,73.68 L231.55,74.05 L231.73,74.43 L231.90,74.80 L232.08,75.17 L232.25,75.54 L232.43,75.92 L232.60,76.29 L232.78,76.67 L232.95,77.04 L233.13,77.42 L233.31,77.80 L233.48,78.17 L233.66,78.55 L233.83,78.93 L234.01,79.31 L234.18,79.69 L234.36,80.07 L234.53,80.46 L234.71,80.84 L234.88,81.22 L235.06,81.61 L235.24,81.99 L235.41,82.38 L235.59,82.76 L235.76,83.15 L235.94,83.53 L236.11,83.92 L236.29,84.31 L236.46,84.70 L236.64,85.09 L236.81,85.48 L236.99,85.87 L237.17,86.26 L237.34,86.65 L237.52,87.04 L237.69,87.44 L237.87,87.83 L238.04,88.22 L238.22,88.62 L238.39,89.01 L238.57,89.41 L238.74,89.81 L238.92,90.20 L239.10,90.60 L239.27,91.00 L239.45,91.39 L239.62,91.79 L239.80,92.19 L239.97,92.59 L240.15,92.99 L240.32,93.39 L240.50,93.79 L240.67,94.19 L240.85,94.60 L241.03,95.00 L241.20,95.40 L241.38,95.80 L241.55,96.21 L241.73,96.61 L241.90,97.02 L242.08,97.42 L242.25,97.83 L242.43,98.23 L242.60,98.64 L242.78,99.04 L242.95,99.45 L243.13,99.86 L243.31,100.27 L243.48,100.67 L243.66,101.08 L243.83,101.49 L244.01,101.90 L244.18,102.31 L244.36,102.72 L244.53,103.13 L244.71,103.54 L244.88,103.95 L245.06,104.36 L245.24,104.77 L245.41,105.18 L245.59,105.59 L245.76,106.01 L245.94,106.42 L246.11,106.83 L246.29,107.24 L246.46,107.66 L246.64,108.07 L246.81,108.49 L246.99,108.90 L247.17,109.31 L247.34,109.73 L247.52,110.14 L247.69,110.56 L247.87,110.97 L248.04,111.39 L248.22,111.80 L248.39,112.22 L248.57,112.64 L248.74,113.05 L248.92,113.47 L249.10,113.89 L249.27,114.30 L249.45,114.72 L249.62,115.14 L249.80,115.55 L249.97,115.97 L250.15,116.39 L250.32,116.81 L250.50,117.22 L250.67,117.64 L250.85,118.06 L251.02,118.48 L251.20,118.90 L251.38,119.32 L251.55,119.73 L251.73,120.15 L251.90,120.57 L252.08,120.99 L252.25,121.41 L252.43,121.83 L252.60,122.25 L252.78,122.67 L252.95,123.09 L253.13,123.51 L253.31,123.92 L253.48,124.34 L253.66,124.76 L253.83,125.18 L254.01,125.60 L254.18,126.02 L254.36,126.44 L254.53,126.86 L254.71,127.28 L254.88,127.70 L255.06,128.12 L255.24,128.54 L255.41,128.96 L255.59,129.38 L255.76,129.80 L255.94,130.21 L256.11,130.63 L256.29,131.05 L256.46,131.47 L256.64,131.89 L256.81,132.31 L256.99,132.73 L257.17,133.15 L257.34,133.57 L257.52,133.98 L257.69,134.40 L257.87,134.82 L258.04,135.24 L258.22,135.66 L258.39,136.07 L258.57,136.49 L258.74,136.91 L258.92,137.33 L259.10,137.74 L259.27,138.16 L259.45,138.58 L259.62,139.00 L259.80,139.41 L259.97,139.83 L260.15,140.25 L260.32,140.66 L260.50,141.08 L260.67,141.49 L260.85,141.91 L261.02,142.32 L261.20,142.74 L261.38,143.15 L261.55,143.57 L261.73,143.98 L261.90,144.40 L262.08,144.81 L262.25,145.22 L262.43,145.64 L262.60,146.05 L262.78,146.46 L262.95,146.88 L263.13,147.29 L263.31,147.70 L263.48,148.11 L263.66,148.52 L263.83,148.93 L264.01,149.34 L264.18,149.75 L264.36,150.16 L264.53,150.57 L264.71,150.98 L264.88,151.39 L265.06,151.80 L265.24,152.21 L265.41,152.62 L265.59,153.02 L265.76,153.43 L265.94,153.84 L266.11,154.25 L266.29,154.65 L266.46,155.06 L266.64,155.46 L266.81,155.87 L266.99,156.27 L267.17,156.68 L267.34,157.08 L267.52,157.48 L267.69,157.89 L267.87,158.29 L268.04,158.69 L268.22,159.09 L268.39,159.49 L268.57,159.89 L268.74,160.29 L268.92,160.69 L269.10,161.09 L269.27,161.49 L269.45,161.89 L269.62,162.28 L269.80,162.68 L269.97,163.08 L270.15,163.47 L270.32,163.87 L270.50,164.26 L270.67,164.66 L270.85,165.05 L271.02,165.45 L271.20,165.84 L271.38,166.23 L271.55,166.62 L271.73,167.01 L271.90,167.40 L272.08,167.79 L272.25,168.18 L272.43,168.57 L272.60,168.96 L272.78,169.35 L272.95,169.74 L273.13,170.12 L273.31,170.51 L273.48,170.89 L273.66,171.28 L273.83,171.66 L274.01,172.04 L274.18,172.43 L274.36,172.81 L274.53,173.19 L274.71,173.57 L274.88,173.95 L275.06,174.33 L275.24,174.71 L275.41,175.09 L275.59,175.47 L275.76,175.84 L275.94,176.22 L276.11,176.59 L276.29,176.97 L276.46,177.34 L276.64,177.71 L276.81,178.09 L276.99,178.46 L277.17,178.83 L277.34,179.20 L277.52,179.57 L277.69,179.94 L277.87,180.31 L278.04,180.67 L278.22,181.04 L278.39,181.41 L278.57,181.77 L278.74,182.13 L278.92,182.50 L279.09,182.86 L279.27,183.22 L279.45,183.58 L279.62,183.94 L279.80,184.30 L279.97,184.66 L280.15,185.02 L280.32,185.38 L280.50,185.73 L280.67,186.09 L280.85,186.44 L281.02,186.79 L281.20,187.15 L281.38,187.50 L281.55,187.85 L281.73,188.20 L281.90,188.55 L282.08,188.90 L282.25,189.25 L282.43,189.59 L282.60,189.94 L282.78,190.28 L282.95,190.63 L283.13,190.97 L283.31,191.31 L283.48,191.65 L283.66,191.99 L283.83,192.33 L284.01,192.67 L284.18,193.01 L284.36,193.35 L284.53,193.68 L284.71,194.02 L284.88,194.35 L285.06,194.68 L285.24,195.01 L285.41,195.35 L285.59,195.68 L285.76,196.00 L285.94,196.33 L286.11,196.66 L286.29,196.99 L286.46,197.31 L286.64,197.63 L286.81,197.96 L286.99,198.28 L287.17,198.60 L287.34,198.92 L287.52,199.24 L287.69,199.56 L287.87,199.87 L288.04,200.19 L288.22,200.51 L288.39,200.82 L288.57,201.13 L288.74,201.44 L288.92,201.75 L289.09,202.06 L289.27,202.37 L289.45,202.68 L289.62,202.99 L289.80,203.29 L289.97,203.60 L290.15,203.90 L290.32,204.20 L290.50,204.50 L290.85,205.10 L291.20,205.69 L291.55,206.28 L291.90,206.87 L292.25,207.45 L292.60,208.03 L292.95,208.60 L293.31,209.17 L293.66,209.73 L294.01,210.29 L294.36,210.84 L294.71,211.39 L295.06,211.93 L295.41,212.47 L295.76,213.00 L296.11,213.53 L296.46,214.06 L296.81,214.57 L297.17,215.09 L297.52,215.60 L297.87,216.10 L298.22,216.60 L298.57,217.10 L298.92,217.58 L299.27,218.07 L299.62,218.55 L299.97,219.02 L300.32,219.49 L300.67,219.95 L301.02,220.41 L301.38,220.86 L301.73,221.31 L302.08,221.75 L302.43,222.19 L302.78,222.62 L303.13,223.04 L303.48,223.46 L303.83,223.88 L304.18,224.29 L304.53,224.69 L304.88,225.09 L305.24,225.48 L305.59,225.87 L305.94,226.25 L306.29,226.63 L306.64,227.00 L306.99,227.36 L307.34,227.72 L307.69,228.08 L308.04,228.42 L308.39,228.76 L308.74,229.10 L309.09,229.43 L309.45,229.76 L309.80,230.07 L310.15,230.39 L310.50,230.69 L310.85,231.00 L311.38,231.44 L311.90,231.86 L312.43,232.28 L312.95,232.68 L313.48,233.07 L314.01,233.44 L314.53,233.80 L315.06,234.15 L315.59,234.48 L316.11,234.80 L316.64,235.10 L317.34,235.49 L318.04,235.85 L318.74,236.19 L319.45,236.50 L320.32,236.86 L321.20,237.17" stroke="#ff00ff" stroke-width="1.4" stroke-dasharray="12.3,2"/>
</g>
<path d="M40.5,0.5 H321.2 V238.3 H40.5 Z" fill="none" stroke="#000" stroke-width="1.1"/>
<path d="M40.5,238.30 h8.0 M40.5,233.80 h4.0 M40.5,229.30 h4.0 M40.5,224.81 h4.0 M40.5,220.31 h4.0 M40.5,215.81 h8.0 M40.5,211.31 h4.0 M40.5,206.81 h4.0 M40.5,202.32 h4.0 M40.5,197.82 h4.0 M40.5,193.32 h8.0 M40.5,188.82 h4.0 M40.5,184.32 h4.0 M40.5,179.83 h4.0 M40.5,175.33 h4.0 M40.5,170.83 h8.0 M40.5,166.33 h4.0 M40.5,161.83 h4.0 M40.5,157.34 h4.0 M40.5,152.84 h4.0 M40.5,148.34 h8.0 M40.5,143.84 h4.0 M40.5,139.34 h4.0 M40.5,134.85 h4.0 M40.5,130.35 h4.0 M40.5,125.85 h8.0 M40.5,121.35 h4.0 M40.5,116.85 h4.0 M40.5,112.36 h4.0 M40.5,107.86 h4.0 M40.5,103.36 h8.0 M40.5,98.86 h4.0 M40.5,94.36 h4.0 M40.5,89.87 h4.0 M40.5,85.37 h4.0 M40.5,80.87 h8.0 M40.5,76.37 h4.0 M40.5,71.87 h4.0 M40.5,67.38 h4.0 M40.5,62.88 h4.0 M40.5,58.38 h8.0 M40.5,53.88 h4.0 M40.5,49.38 h4.0 M40.5,44.89 h4.0 M40.5,40.39 h4.0 M40.5,35.89 h8.0 M40.5,31.39 h4.0 M40.5,26.89 h4.0 M40.5,22.40 h4.0 M40.5,17.90 h4.0 M40.5,13.40 h8.0 M40.5,8.90 h4.0 M40.5,4.40 h4.0 M40.50,238.3 v-6.0 M47.52,238.3 v-3.5 M54.53,238.3 v-3.5 M61.55,238.3 v-3.5 M68.57,238.3 v-6.0 M75.59,238.3 v-3.5 M82.61,238.3 v-3.5 M89.62,238.3 v-3.5 M96.64,238.3 v-6.0 M103.66,238.3 v-3.5 M110.67,238.3 v-3.5 M117.69,238.3 v-3.5 M124.71,238.3 v-6.0 M131.73,238.3 v-3.5 M138.75,238.3 v-3.5 M145.76,238.3 v-3.5 M152.78,238.3 v-6.0 M159.80,238.3 v-3.5 M166.81,238.3 v-3.5 M173.83,238.3 v-3.5 M180.85,238.3 v-6.0 M187.87,238.3 v-3.5 M194.89,238.3 v-3.5 M201.90,238.3 v-3.5 M208.92,238.3 v-6.0 M215.94,238.3 v-3.5 M222.96,238.3 v-3.5 M229.97,238.3 v-3.5 M236.99,238.3 v-6.0 M244.01,238.3 v-3.5 M251.02,238.3 v-3.5 M258.04,238.3 v-3.5 M265.06,238.3 v-6.0 M272.08,238.3 v-3.5 M279.10,238.3 v-3.5 M286.11,238.3 v-3.5 M293.13,238.3 v-6.0 M300.15,238.3 v-3.5 M307.17,238.3 v-3.5 M314.18,238.3 v-3.5 M321.20,238.3 v-6.0" stroke="#000" stroke-width="1" fill="none"/>
<text x="39.0" y="241.9" font-family="Liberation Serif" font-weight="bold" font-size="12.5" text-anchor="end">0</text>
<text x="39.0" y="219.4" font-family="Liberation Serif" font-weight="bold" font-size="12.5" text-anchor="end">0.1</text>
<text x="39.0" y="196.9" font-family="Liberation Serif" font-weight="bold" font-size="12.5" text-anchor="end">0.2</text>
<text x="39.0" y="174.4" font-family="Liberation Serif" font-weight="bold" font-size="12.5" text-anchor="end">0.3</text>
<text x="39.0" y="151.9" font-family="Liberation Serif" font-weight="bold" font-size="12.5" text-anchor="end">0.4</text>
<text x="39.0" y="129.5" font-family="Liberation Serif" font-weight="bold" font-size="12.5" text-anchor="end">0.5</text>
<text x="39.0" y="107.0" font-family="Liberation Serif" font-weight="bold" font-size="12.5" text-anchor="end">0.6</text>
<text x="39.0" y="84.5" font-family="Liberation Serif" font-weight="bold" font-size="12.5" text-anchor="end">0.7</text>
<text x="39.0" y="62.0" font-family="Liberation Serif" font-weight="bold" font-size="12.5" text-anchor="end">0.8</text>
<text x="39.0" y="39.5" font-family="Liberation Serif" font-weight="bold" font-size="12.5" text-anchor="end">0.9</text>
<text x="39.0" y="17.0" font-family="Liberation Serif" font-weight="bold" font-size="12.5" text-anchor="end">1</text>
<text x="40.5" y="251.0" font-family="Liberation Serif" font-weight="bold" font-size="12.5" text-anchor="middle">-1</text>
<text x="68.6" y="251.0" font-family="Liberation Serif" font-weight="bold" font-size="12.5" text-anchor="middle">-0.8</text>
<text x="96.6" y="251.0" font-family="Liberation Serif" font-weight="bold" font-size="12.5" text-anchor="middle">-0.6</text>
<text x="124.7" y="251.0" font-family="Liberation Serif" font-weight="bold" font-size="12.5" text-anchor="middle">-0.4</text>
<text x="152.8" y="251.0" font-family="Liberation Serif" font-weight="bold" font-size="12.5" text-anchor="middle">-0.2</text>
<text x="180.8" y="251.0" font-family="Liberation Serif" font-weight="bold" font-size="12.5" text-anchor="middle">0</text>
<text x="208.9" y="251.0" font-family="Liberation Serif" font-weight="bold" font-size="12.5" text-anchor="middle">0.2</text>
<text x="237.0" y="251.0" font-family="Liberation Serif" font-weight="bold" font-size="12.5" text-anchor="middle">0.4</text>
<text x="265.1" y="251.0" font-family="Liberation Serif" font-weight="bold" font-size="12.5" text-anchor="middle">0.6</text>
<text x="293.1" y="251.0" font-family="Liberation Serif" font-weight="bold" font-size="12.5" text-anchor="middle">0.8</text>
<text x="321.2" y="251.0" font-family="Liberation Serif" font-weight="bold" font-size="12.5" text-anchor="middle">1</text>
<text x="166.2" y="267.6" font-family="Liberation Serif" font-weight="bold" font-size="14">cos<tspan font-weight="normal">&#952;</tspan><tspan font-size="10" dy="3" font-weight="normal">&#957;</tspan></text>
<text transform="translate(11.8,128) rotate(-90)" font-family="Liberation Serif" font-weight="bold" font-size="14">P<tspan font-size="10" dy="3" dx="-1.5" font-weight="normal">&#956;&#956;</tspan></text>
<text x="68.6" y="89.4" font-family="Liberation Serif" font-weight="bold" font-size="8.9" word-spacing="1.1">P<tspan font-size="6" dy="2" font-weight="normal">&#956;&#956;</tspan><tspan dy="-2">, 3 flavour matter, NH</tspan></text>
<path d="M69.3,102.8 H88" stroke="#d83c3c" stroke-width="1.4" />
<text x="127.8" y="106.4" font-family="Liberation Serif" font-weight="bold" font-size="9.25" text-anchor="middle">E<tspan font-size="6.5" dy="2" font-weight="normal">&#957;</tspan><tspan dy="-2"> = 5 GeV</tspan></text>
<path d="M69.3,119.4 H88" stroke="#151515" stroke-width="1.4" stroke-dasharray="1.7,1.7"/>
<text x="127.8" y="123.0" font-family="Liberation Serif" font-weight="bold" font-size="9.25" text-anchor="middle">E<tspan font-size="6.5" dy="2" font-weight="normal">&#957;</tspan><tspan dy="-2"> = 10 GeV</tspan></text>
<path d="M69.3,136.5 H88" stroke="#5252f2" stroke-width="1.4" stroke-dasharray="1,0.65"/>
<text x="127.8" y="139.8" font-family="Liberation Serif" font-weight="bold" font-size="9.25" text-anchor="middle">E<tspan font-size="6.5" dy="2" font-weight="normal">&#957;</tspan><tspan dy="-2"> = 12 GeV</tspan></text>
<path d="M69.3,153.5 H88" stroke="#7b1fe0" stroke-width="1.4" stroke-dasharray="1.5,2.15,0.8,2.15"/>
<text x="127.8" y="157.2" font-family="Liberation Serif" font-weight="bold" font-size="9.25" text-anchor="middle">E<tspan font-size="6.5" dy="2" font-weight="normal">&#957;</tspan><tspan dy="-2"> = 15 GeV</tspan></text>
<path d="M69.3,170.6 H88" stroke="#ff00ff" stroke-width="1.4" stroke-dasharray="12,3"/>
<text x="127.8" y="174.0" font-family="Liberation Serif" font-weight="bold" font-size="9.25" text-anchor="middle">E<tspan font-size="6.5" dy="2" font-weight="normal">&#957;</tspan><tspan dy="-2"> = 25 GeV</tspan></text>
<g clip-path="url(#cr)" fill="none" stroke-width="1.1">
<path d="M382.50,22.50 L385.67,22.50 L388.83,22.50 L392.00,22.50 L395.17,22.50 L398.33,22.50 L401.50,22.50 L404.66,22.50 L407.83,22.50 L411.00,22.51 L414.16,22.51 L417.33,22.51 L420.50,22.51 L423.66,22.51 L426.83,22.51 L429.99,22.51 L433.16,22.51 L436.33,22.51 L439.49,22.51 L442.66,22.51 L445.82,22.51 L448.99,22.51 L452.16,22.51 L455.32,22.51 L458.49,22.51 L461.66,22.51 L464.82,22.52 L467.99,22.52 L471.15,22.52 L474.32,22.52 L477.49,22.52 L480.65,22.53 L483.82,22.53 L486.99,22.54 L490.15,22.54 L493.32,22.55 L496.49,22.56 L499.65,22.57 L502.82,22.58 L505.98,22.61 L509.15,22.63 L512.32,22.68 L515.48,22.74 L518.65,22.84 L521.82,23.02 L524.80,23.32 L526.66,23.63 L528.15,23.98 L529.26,24.32 L530.20,24.68 L530.94,25.02 L531.69,25.41 L532.25,25.75 L532.80,26.12 L533.36,26.53 L533.92,26.98 L534.29,27.30 L534.67,27.65 L535.04,28.01 L535.41,28.40 L535.78,28.81 L536.16,29.24 L536.53,29.69 L536.90,30.17 L537.27,30.67 L537.65,31.19 L538.02,31.74 L538.39,32.31 L538.76,32.91 L538.95,33.22 L539.14,33.53 L539.32,33.85 L539.51,34.17 L539.69,34.51 L539.88,34.84 L540.07,35.19 L540.25,35.54 L540.44,35.89 L540.63,36.26 L540.81,36.63 L541.00,37.00 L541.18,37.38 L541.37,37.77 L541.56,38.16 L541.74,38.56 L541.93,38.97 L542.12,39.38 L542.30,39.80 L542.49,40.22 L542.67,40.65 L542.86,41.09 L543.05,41.53 L543.23,41.98 L543.42,42.44 L543.61,42.90 L543.79,43.36 L543.98,43.84 L544.16,44.32 L544.35,44.80 L544.54,45.29 L544.72,45.79 L544.91,46.29 L545.10,46.80 L545.28,47.31 L545.47,47.83 L545.65,48.36 L545.84,48.89 L546.03,49.43 L546.21,49.97 L546.40,50.52 L546.59,51.07 L546.77,51.63 L546.96,52.20 L547.14,52.77 L547.33,53.34 L547.52,53.92 L547.70,54.51 L547.89,55.10 L548.08,55.70 L548.26,56.31 L548.45,56.91 L548.63,57.53 L548.82,58.15 L549.01,58.77 L549.19,59.40 L549.38,60.03 L549.57,60.67 L549.75,61.32 L549.94,61.97 L550.12,62.62 L550.31,63.28 L550.50,63.94 L550.68,64.61 L550.87,65.28 L551.06,65.96 L551.24,66.64 L551.43,67.33 L551.62,68.02 L551.80,68.72 L551.99,69.42 L552.17,70.13 L552.36,70.84 L552.55,71.55 L552.73,72.27 L552.92,72.99 L553.11,73.72 L553.29,74.45 L553.48,75.18 L553.66,75.92 L553.85,76.66 L554.04,77.41 L554.22,78.16 L554.41,78.91 L554.60,79.67 L554.78,80.43 L554.97,81.20 L555.15,81.97 L555.34,82.74 L555.53,83.52 L555.71,84.30 L555.90,85.08 L556.09,85.87 L556.27,86.66 L556.46,87.45 L556.64,88.25 L556.83,89.05 L557.02,89.85 L557.20,90.65 L557.39,91.46 L557.58,92.28 L557.76,93.09 L557.95,93.91 L558.13,94.73 L558.32,95.55 L558.51,96.37 L558.69,97.20 L558.88,98.03 L559.07,98.87 L559.25,99.70 L559.44,100.54 L559.62,101.38 L559.81,102.22 L560.00,103.07 L560.18,103.91 L560.37,104.76 L560.56,105.61 L560.74,106.46 L560.93,107.32 L561.11,108.18 L561.30,109.03 L561.49,109.89 L561.67,110.75 L561.86,111.62 L562.05,112.48 L562.23,113.35 L562.42,114.22 L562.60,115.09 L562.79,115.96 L562.98,116.83 L563.16,117.70 L563.35,118.57 L563.54,119.45 L563.72,120.32 L563.91,121.20 L564.09,122.08 L564.28,122.96 L564.47,123.84 L564.65,124.72 L564.84,125.60 L565.02,126.48 L565.21,127.36 L565.40,128.24 L565.58,129.13 L565.77,130.01 L565.96,130.89 L566.14,131.77 L566.33,132.66 L566.51,133.54 L566.70,134.43 L566.89,135.31 L567.07,136.19 L567.26,137.08 L567.45,137.96 L567.63,138.84 L567.82,139.73 L568.00,140.61 L568.19,141.49 L568.38,142.37 L568.56,143.25 L568.75,144.13 L568.94,145.01 L569.12,145.89 L569.31,146.77 L569.50,147.64 L569.68,148.52 L569.87,149.39 L570.05,150.27 L570.24,151.14 L570.43,152.01 L570.61,152.88 L570.80,153.75 L570.99,154.62 L571.17,155.48 L571.36,156.35 L571.54,157.21 L571.73,158.07 L571.92,158.93 L572.10,159.79 L572.29,160.65 L572.48,161.50 L572.66,162.35 L572.85,163.21 L573.03,164.05 L573.22,164.90 L573.41,165.74 L573.59,166.59 L573.78,167.43 L573.96,168.26 L574.15,169.10 L574.34,169.93 L574.52,170.76 L574.71,171.59 L574.90,172.41 L575.08,173.24 L575.27,174.06 L575.45,174.87 L575.64,175.69 L575.83,176.50 L576.01,177.31 L576.20,178.11 L576.39,178.91 L576.57,179.71 L576.76,180.51 L576.94,181.30 L577.13,182.09 L577.32,182.88 L577.50,183.66 L577.69,184.44 L577.88,185.21 L578.06,185.99 L578.25,186.76 L578.43,187.52 L578.62,188.28 L578.81,189.04 L578.99,189.79 L579.18,190.54 L579.37,191.29 L579.55,192.03 L579.74,192.77 L579.92,193.50 L580.11,194.23 L580.30,194.96 L580.48,195.68 L580.67,196.39 L580.86,197.11 L581.04,197.81 L581.23,198.52 L581.41,199.22 L581.60,199.91 L581.79,200.60 L581.97,201.29 L582.16,201.97 L582.35,202.64 L582.53,203.32 L582.72,203.98 L582.90,204.64 L583.09,205.30 L583.28,205.95 L583.46,206.60 L583.65,207.24 L583.84,207.88 L584.02,208.51 L584.21,209.13 L584.39,209.76 L584.58,210.37 L584.77,210.98 L584.95,211.59 L585.14,212.19 L585.33,212.78 L585.51,213.37 L585.70,213.95 L585.88,214.53 L586.07,215.10 L586.26,215.67 L586.44,216.23 L586.63,216.79 L586.82,217.34 L587.00,217.88 L587.19,218.42 L587.38,218.95 L587.56,219.48 L587.75,220.00 L587.93,220.51 L588.12,221.02 L588.31,221.52 L588.31,221.52 L588.76,222.31 L589.36,223.37 L590.06,224.62 L590.85,225.99 L591.67,227.41 L592.49,228.80 L593.28,230.08 L594.00,231.20 L594.67,232.19 L595.32,233.14 L595.96,234.05 L596.59,234.90 L597.22,235.69 L597.85,236.41 L598.47,237.05 L599.10,237.60 L599.73,238.06 L600.35,238.45 L600.98,238.75 L601.60,238.99 L602.22,239.15 L602.85,239.26 L603.47,239.31 L604.10,239.30 L604.73,239.23 L605.37,239.09 L606.01,238.88 L606.65,238.62 L607.29,238.30 L607.93,237.94 L608.57,237.54 L609.20,237.10 L609.83,236.64 L610.46,236.15 L611.08,235.62 L611.71,235.04 L612.33,234.41 L612.95,233.72 L613.58,232.95 L614.20,232.10 L614.83,231.16 L615.47,230.13 L616.11,229.03 L616.75,227.87 L617.38,226.65 L618.01,225.39 L618.61,224.11 L619.20,222.80 L619.76,221.48 L620.30,220.12 L620.82,218.74 L621.33,217.31 L621.83,215.84 L622.34,214.32 L622.86,212.74 L623.40,211.10 L623.96,209.38 L624.55,207.59 L625.14,205.73 L625.74,203.82 L626.34,201.88 L626.92,199.92 L627.47,197.95 L628.00,196.00 L628.48,194.07 L628.90,192.16 L629.30,190.24 L629.68,188.31 L630.07,186.33 L630.50,184.30 L630.96,182.20 L631.50,180.00 L632.12,177.69 L632.80,175.28 L633.54,172.79 L634.30,170.25 L635.07,167.68 L635.82,165.09 L636.54,162.53 L637.20,160.00 L637.81,157.50 L638.38,155.00 L638.93,152.50 L639.46,150.00 L639.97,147.50 L640.48,145.00 L640.99,142.50 L641.50,140.00 L642.01,137.50 L642.52,135.00 L643.02,132.50 L643.52,130.00 L644.01,127.50 L644.51,125.00 L645.00,122.50 L645.50,120.00 L646.00,117.50 L646.50,115.00 L647.01,112.50 L647.51,110.00 L648.01,107.50 L648.51,105.00 L649.01,102.50 L649.50,100.00 L650.00,97.47 L650.50,94.91 L651.01,92.32 L651.51,89.75 L652.00,87.21 L652.47,84.72 L652.90,82.31 L653.30,80.00 L653.65,77.74 L653.97,75.50 L654.26,73.29 L654.52,71.16 L654.77,69.13 L655.02,67.24 L655.26,65.52 L655.50,64.00 L655.75,62.67 L655.99,61.50 L656.22,60.47 L656.44,59.59 L656.66,58.86 L656.88,58.27 L657.09,57.82 L657.30,57.50 L657.50,57.37 L657.69,57.45 L657.88,57.70 L658.06,58.07 L658.24,58.54 L658.42,59.04 L658.61,59.54 L658.80,60.00 L658.99,60.52 L659.18,61.20 L659.37,61.95 L659.56,62.70 L659.76,63.38 L659.96,63.93 L660.18,64.26 L660.40,64.30 L660.63,64.07 L660.86,63.65 L661.10,63.05 L661.34,62.29 L661.60,61.39 L661.88,60.36 L662.18,59.23 L662.50,58.00 L662.86,56.59 L663.27,54.95 L663.70,53.14 L664.14,51.23 L664.59,49.30 L665.02,47.40 L665.43,45.61 L665.80,44.00 L666.13,42.54 L666.43,41.16 L666.71,39.85 L666.98,38.59 L667.24,37.39 L667.49,36.23 L667.74,35.10 L668.00,34.00 L668.26,32.91 L668.52,31.83 L668.77,30.78 L669.02,29.78 L669.27,28.83 L669.52,27.96 L669.76,27.18 L670.00,26.50 L670.23,25.92 L670.46,25.43 L670.69,25.02 L670.91,24.68 L671.13,24.42 L671.35,24.24 L671.57,24.14 L671.80,24.10 L672.03,24.14 L672.26,24.27 L672.49,24.47 L672.72,24.74 L672.95,25.09 L673.19,25.50 L673.44,25.97 L673.70,26.50 L673.96,27.10 L674.23,27.79 L674.51,28.54 L674.79,29.36 L675.08,30.22 L675.37,31.12 L675.68,32.05 L676.00,33.00 L676.34,34.02 L676.71,35.15 L677.10,36.34 L677.49,37.55 L677.88,38.74 L678.25,39.85 L678.60,40.86 L678.90,41.70 L679.17,42.39 L679.43,42.98 L679.67,43.48 L679.88,43.89 L680.07,44.24 L680.24,44.53 L680.39,44.78 L680.50,45.00" stroke="#b8424c" stroke-width="1.25"/>
<path d="M382.50,22.51 L385.67,22.51 L388.83,22.51 L392.00,22.51 L395.17,22.51 L398.33,22.51 L401.50,22.51 L404.66,22.51 L407.83,22.51 L411.00,22.51 L414.16,22.51 L417.33,22.51 L420.50,22.51 L423.66,22.51 L426.83,22.51 L429.99,22.51 L433.16,22.51 L436.33,22.51 L439.49,22.51 L442.66,22.51 L445.82,22.52 L448.99,22.52 L452.16,22.52 L455.32,22.52 L458.49,22.52 L461.66,22.52 L464.82,22.53 L467.99,22.53 L471.15,22.53 L474.32,22.53 L477.49,22.54 L480.65,22.54 L483.82,22.55 L486.99,22.56 L490.15,22.57 L493.32,22.58 L496.49,22.59 L499.65,22.61 L502.82,22.63 L505.98,22.66 L509.15,22.71 L512.32,22.78 L515.48,22.88 L518.65,23.04 L521.82,23.32 L524.05,23.64 L525.54,23.96 L526.66,24.27 L527.59,24.59 L528.33,24.90 L529.08,25.26 L529.64,25.57 L530.20,25.92 L530.75,26.31 L531.31,26.74 L531.69,27.06 L532.06,27.40 L532.43,27.77 L532.80,28.16 L533.18,28.58 L533.55,29.03 L533.92,29.50 L534.29,30.01 L534.67,30.55 L535.04,31.12 L535.41,31.72 L535.60,32.03 L535.78,32.35 L535.97,32.68 L536.16,33.02 L536.34,33.37 L536.53,33.72 L536.71,34.09 L536.90,34.46 L537.09,34.85 L537.27,35.24 L537.46,35.64 L537.65,36.05 L537.83,36.46 L538.02,36.89 L538.20,37.33 L538.39,37.77 L538.58,38.23 L538.76,38.69 L538.95,39.17 L539.14,39.65 L539.32,40.14 L539.51,40.64 L539.69,41.15 L539.88,41.67 L540.07,42.20 L540.25,42.73 L540.44,43.28 L540.63,43.84 L540.81,44.40 L541.00,44.97 L541.18,45.56 L541.37,46.15 L541.56,46.75 L541.74,47.36 L541.93,47.98 L542.12,48.60 L542.30,49.24 L542.49,49.88 L542.67,50.54 L542.86,51.20 L543.05,51.87 L543.23,52.55 L543.42,53.24 L543.61,53.94 L543.79,54.64 L543.98,55.36 L544.16,56.08 L544.35,56.81 L544.54,57.55 L544.72,58.29 L544.91,59.05 L545.10,59.81 L545.28,60.58 L545.47,61.36 L545.65,62.14 L545.84,62.94 L546.03,63.74 L546.21,64.55 L546.40,65.37 L546.59,66.19 L546.77,67.02 L546.96,67.86 L547.14,68.70 L547.33,69.56 L547.52,70.42 L547.70,71.28 L547.89,72.16 L548.08,73.04 L548.26,73.92 L548.45,74.82 L548.63,75.72 L548.82,76.62 L549.01,77.54 L549.19,78.45 L549.38,79.38 L549.57,80.31 L549.75,81.25 L549.94,82.19 L550.12,83.14 L550.31,84.09 L550.50,85.05 L550.68,86.02 L550.87,86.99 L551.06,87.96 L551.24,88.94 L551.43,89.93 L551.62,90.92 L551.80,91.91 L551.99,92.91 L552.17,93.92 L552.36,94.92 L552.55,95.94 L552.73,96.95 L552.92,97.98 L553.11,99.00 L553.29,100.03 L553.48,101.06 L553.66,102.10 L553.85,103.14 L554.04,104.19 L554.22,105.23 L554.41,106.28 L554.60,107.34 L554.78,108.39 L554.97,109.45 L555.15,110.52 L555.34,111.58 L555.53,112.65 L555.71,113.72 L555.90,114.79 L556.09,115.87 L556.27,116.94 L556.46,118.02 L556.64,119.10 L556.83,120.19 L557.02,121.27 L557.20,122.36 L557.39,123.44 L557.58,124.53 L557.76,125.62 L557.95,126.71 L558.13,127.80 L558.32,128.90 L558.51,129.99 L558.69,131.08 L558.88,132.18 L559.07,133.27 L559.25,134.37 L559.44,135.46 L559.62,136.56 L559.81,137.65 L560.00,138.75 L560.18,139.84 L560.37,140.93 L560.56,142.03 L560.74,143.12 L560.93,144.21 L561.11,145.30 L561.30,146.39 L561.49,147.48 L561.67,148.57 L561.86,149.65 L562.05,150.74 L562.23,151.82 L562.42,152.90 L562.60,153.98 L562.79,155.05 L562.98,156.13 L563.16,157.20 L563.35,158.27 L563.54,159.34 L563.72,160.40 L563.91,161.46 L564.09,162.52 L564.28,163.58 L564.47,164.63 L564.65,165.68 L564.84,166.73 L565.02,167.77 L565.21,168.81 L565.40,169.85 L565.58,170.88 L565.77,171.91 L565.96,172.93 L566.14,173.95 L566.33,174.97 L566.51,175.98 L566.70,176.99 L566.89,177.99 L567.07,178.99 L567.26,179.98 L567.45,180.97 L567.63,181.95 L567.82,182.93 L568.00,183.90 L568.19,184.87 L568.38,185.84 L568.56,186.79 L568.75,187.74 L568.94,188.69 L569.12,189.63 L569.31,190.56 L569.50,191.49 L569.68,192.41 L569.87,193.33 L570.05,194.24 L570.24,195.14 L570.43,196.04 L570.61,196.93 L570.80,197.81 L570.99,198.68 L571.17,199.55 L571.36,200.42 L571.54,201.27 L571.73,202.12 L571.92,202.96 L572.10,203.79 L572.29,204.62 L572.48,205.43 L572.66,206.24 L572.85,207.05 L573.03,207.84 L573.22,208.63 L573.41,209.41 L573.59,210.18 L573.78,210.94 L573.96,211.69 L574.15,212.44 L574.34,213.18 L574.52,213.91 L574.71,214.63 L574.90,215.34 L575.08,216.04 L575.27,216.73 L575.45,217.42 L575.64,218.10 L575.83,218.76 L576.01,219.42 L576.20,220.07 L576.39,220.71 L576.57,221.34 L576.57,221.34 L576.99,222.21 L577.54,223.37 L578.19,224.74 L578.91,226.24 L579.68,227.79 L580.47,229.32 L581.25,230.75 L582.00,232.00 L582.74,233.18 L583.51,234.40 L584.29,235.62 L585.08,236.76 L585.87,237.78 L586.66,238.61 L587.44,239.21 L588.20,239.50 L588.93,239.49 L589.64,239.24 L590.33,238.76 L591.02,238.09 L591.72,237.26 L592.44,236.28 L593.20,235.18 L594.00,234.00 L594.86,232.70 L595.78,231.24 L596.73,229.64 L597.71,227.91 L598.69,226.06 L599.66,224.12 L600.60,222.10 L601.50,220.00 L602.37,217.79 L603.22,215.42 L604.05,212.94 L604.87,210.38 L605.67,207.76 L606.46,205.14 L607.24,202.54 L608.00,200.00 L608.75,197.50 L609.49,195.00 L610.21,192.50 L610.92,190.00 L611.61,187.50 L612.29,185.00 L612.95,182.50 L613.60,180.00 L614.22,177.50 L614.81,175.00 L615.38,172.50 L615.93,170.00 L616.48,167.50 L617.04,165.00 L617.61,162.50 L618.20,160.00 L618.81,157.50 L619.44,155.00 L620.08,152.50 L620.72,150.00 L621.37,147.50 L622.01,145.00 L622.66,142.50 L623.30,140.00 L623.95,137.43 L624.62,134.77 L625.30,132.06 L625.97,129.38 L626.63,126.77 L627.26,124.30 L627.85,122.02 L628.40,120.00 L628.89,118.27 L629.34,116.80 L629.75,115.52 L630.14,114.38 L630.51,113.31 L630.87,112.27 L631.23,111.18 L631.60,110.00 L631.98,108.75 L632.35,107.50 L632.71,106.25 L633.08,105.00 L633.43,103.75 L633.79,102.50 L634.14,101.25 L634.50,100.00 L634.86,98.76 L635.21,97.52 L635.57,96.29 L635.92,95.05 L636.27,93.81 L636.62,92.56 L636.96,91.29 L637.30,90.00 L637.63,88.70 L637.95,87.41 L638.27,86.11 L638.58,84.80 L638.90,83.46 L639.22,82.09 L639.55,80.67 L639.90,79.20 L640.26,77.65 L640.63,76.03 L641.01,74.35 L641.40,72.64 L641.79,70.93 L642.19,69.24 L642.59,67.59 L643.00,66.00 L643.42,64.44 L643.85,62.85 L644.29,61.28 L644.73,59.74 L645.17,58.26 L645.60,56.88 L646.01,55.61 L646.40,54.50 L646.76,53.55 L647.11,52.75 L647.44,52.07 L647.76,51.48 L648.07,50.96 L648.38,50.47 L648.69,49.99 L649.00,49.50 L649.31,49.01 L649.60,48.58 L649.90,48.17 L650.19,47.79 L650.48,47.43 L650.78,47.06 L651.08,46.69 L651.40,46.30 L651.74,45.91 L652.10,45.55 L652.47,45.19 L652.85,44.82 L653.22,44.44 L653.58,44.02 L653.90,43.54 L654.20,43.00 L654.46,42.38 L654.69,41.71 L654.91,40.98 L655.10,40.22 L655.28,39.43 L655.46,38.62 L655.63,37.81 L655.80,37.00 L655.97,36.06 L656.13,34.92 L656.29,33.69 L656.44,32.49 L656.58,31.42 L656.72,30.61 L656.86,30.17 L657.00,30.20 L657.13,30.75 L657.26,31.71 L657.39,33.01 L657.51,34.58 L657.63,36.34 L657.75,38.21 L657.88,40.13 L658.00,42.00 L658.12,43.90 L658.22,45.92 L658.32,48.05 L658.42,50.26 L658.53,52.53 L658.66,54.84 L658.81,57.17 L659.00,59.50 L659.23,61.91 L659.50,64.44 L659.80,67.05 L660.11,69.68 L660.43,72.26 L660.74,74.74 L661.04,77.08 L661.30,79.20 L661.53,81.14 L661.75,82.98 L661.95,84.70 L662.14,86.30 L662.33,87.78 L662.52,89.15 L662.70,90.39 L662.90,91.50 L663.10,92.48 L663.29,93.34 L663.49,94.07 L663.68,94.67 L663.88,95.17 L664.08,95.55 L664.29,95.83 L664.50,96.00 L664.72,96.02 L664.95,95.87 L665.18,95.58 L665.41,95.19 L665.65,94.75 L665.90,94.29 L666.15,93.86 L666.40,93.50 L666.66,93.14 L666.94,92.72 L667.22,92.28 L667.50,91.84 L667.78,91.46 L668.06,91.17 L668.34,91.00 L668.60,91.00 L668.85,91.17 L669.10,91.47 L669.34,91.90 L669.58,92.41 L669.82,93.00 L670.05,93.64 L670.27,94.32 L670.50,95.00 L670.72,95.65 L670.93,96.26 L671.13,96.88 L671.33,97.57 L671.53,98.36 L671.74,99.32 L671.96,100.48 L672.20,101.90 L672.45,103.61 L672.72,105.59 L673.00,107.78 L673.29,110.13 L673.58,112.58 L673.86,115.08 L674.14,117.57 L674.40,120.00 L674.65,122.41 L674.90,124.87 L675.14,127.36 L675.38,129.88 L675.61,132.42 L675.84,134.96 L676.07,137.49 L676.30,140.00 L676.53,142.60 L676.74,145.33 L676.96,148.12 L677.17,150.88 L677.39,153.53 L677.61,155.98 L677.85,158.17 L678.10,160.00 L678.39,161.46 L678.71,162.62 L679.06,163.54 L679.41,164.25 L679.75,164.80 L680.05,165.25 L680.31,165.63 L680.50,166.00" stroke="#b8424c" stroke-width="1.2" stroke-dasharray="2,1.4"/>
<path d="M382.50,22.50 L385.67,22.50 L388.83,22.50 L392.00,22.50 L395.17,22.50 L398.33,22.50 L401.50,22.50 L404.66,22.50 L407.83,22.50 L411.00,22.50 L414.16,22.50 L417.33,22.50 L420.50,22.50 L423.66,22.50 L426.83,22.50 L429.99,22.50 L433.16,22.50 L436.33,22.50 L439.49,22.50 L442.66,22.50 L445.82,22.50 L448.99,22.50 L452.16,22.50 L455.32,22.50 L458.49,22.50 L461.66,22.50 L464.82,22.51 L467.99,22.51 L471.15,22.51 L474.32,22.51 L477.49,22.51 L480.65,22.51 L483.82,22.51 L486.99,22.51 L490.15,22.51 L493.32,22.51 L496.49,22.52 L499.65,22.52 L502.82,22.53 L505.98,22.53 L509.15,22.54 L512.32,22.55 L515.48,22.57 L518.65,22.61 L521.82,22.66 L524.98,22.76 L528.15,22.95 L530.94,23.27 L532.80,23.61 L534.11,23.93 L535.23,24.26 L536.16,24.58 L537.09,24.94 L537.83,25.27 L538.58,25.62 L539.32,26.01 L539.88,26.33 L540.44,26.66 L541.00,27.00 L541.56,27.37 L542.12,27.76 L542.67,28.16 L543.23,28.59 L543.79,29.03 L544.16,29.33 L544.54,29.65 L544.91,29.97 L545.28,30.30 L545.65,30.64 L546.03,30.98 L546.40,31.34 L546.77,31.70 L547.14,32.08 L547.52,32.46 L547.89,32.84 L548.26,33.24 L548.63,33.65 L549.01,34.06 L549.38,34.48 L549.75,34.91 L550.12,35.35 L550.50,35.79 L550.87,36.24 L551.24,36.71 L551.62,37.17 L551.99,37.65 L552.17,37.89 L552.17,37.89 L552.67,38.85 L553.34,40.14 L554.12,41.66 L554.99,43.34 L555.90,45.09 L556.81,46.84 L557.69,48.51 L558.50,50.00 L559.23,51.28 L559.92,52.41 L560.59,53.46 L561.25,54.51 L561.94,55.61 L562.66,56.85 L563.44,58.29 L564.30,60.00 L565.25,62.02 L566.27,64.30 L567.35,66.77 L568.46,69.38 L569.60,72.06 L570.75,74.77 L571.89,77.43 L573.00,80.00 L574.10,82.50 L575.21,85.00 L576.33,87.50 L577.44,90.00 L578.55,92.50 L579.65,95.00 L580.74,97.50 L581.80,100.00 L582.84,102.50 L583.85,105.00 L584.85,107.50 L585.84,110.00 L586.83,112.50 L587.81,115.00 L588.80,117.50 L589.80,120.00 L590.81,122.50 L591.84,125.00 L592.87,127.50 L593.90,130.00 L594.92,132.50 L595.94,135.00 L596.93,137.50 L597.90,140.00 L598.83,142.50 L599.73,145.00 L600.61,147.50 L601.47,150.00 L602.34,152.50 L603.23,155.00 L604.14,157.50 L605.10,160.00 L606.09,162.50 L607.11,165.00 L608.14,167.50 L609.19,170.00 L610.27,172.50 L611.36,175.00 L612.47,177.50 L613.60,180.00 L614.77,182.56 L615.99,185.21 L617.24,187.90 L618.50,190.56 L619.76,193.16 L620.99,195.63 L622.18,197.93 L623.30,200.00 L624.35,201.82 L625.35,203.42 L626.30,204.85 L627.23,206.16 L628.15,207.39 L629.07,208.57 L630.02,209.76 L631.00,211.00 L632.02,212.24 L633.05,213.41 L634.09,214.55 L635.14,215.66 L636.20,216.78 L637.27,217.93 L638.34,219.13 L639.40,220.40 L640.46,221.77 L641.53,223.25 L642.60,224.78 L643.67,226.33 L644.74,227.87 L645.82,229.35 L646.91,230.74 L648.00,232.00 L649.11,233.18 L650.25,234.32 L651.39,235.42 L652.54,236.44 L653.68,237.37 L654.79,238.17 L655.87,238.82 L656.90,239.30 L657.87,239.58 L658.80,239.68 L659.69,239.63 L660.55,239.46 L661.40,239.19 L662.25,238.88 L663.12,238.53 L664.00,238.20 L664.90,237.86 L665.82,237.46 L666.73,237.02 L667.65,236.54 L668.57,236.01 L669.48,235.44 L670.40,234.84 L671.30,234.20 L672.23,233.48 L673.21,232.65 L674.20,231.76 L675.17,230.84 L676.11,229.93 L676.98,229.08 L677.75,228.32 L678.40,227.70 L678.92,227.20 L679.33,226.80 L679.65,226.46 L679.89,226.19 L680.09,225.97 L680.24,225.79 L680.37,225.64 L680.50,225.50" stroke="#3434e0" stroke-width="1.2" stroke-dasharray="2,1.5"/>
<path d="M382.50,22.50 L385.67,22.50 L388.83,22.50 L392.00,22.50 L395.17,22.50 L398.33,22.50 L401.50,22.50 L404.66,22.50 L407.83,22.50 L411.00,22.50 L414.16,22.50 L417.33,22.50 L420.50,22.50 L423.66,22.50 L426.83,22.50 L429.99,22.50 L433.16,22.50 L436.33,22.50 L439.49,22.50 L442.66,22.50 L445.82,22.50 L448.99,22.50 L452.16,22.50 L455.32,22.50 L458.49,22.50 L461.66,22.50 L464.82,22.50 L467.99,22.50 L471.15,22.50 L474.32,22.50 L477.49,22.51 L480.65,22.51 L483.82,22.51 L486.99,22.51 L490.15,22.51 L493.32,22.51 L496.49,22.51 L499.65,22.51 L502.82,22.52 L505.98,22.52 L509.15,22.53 L512.32,22.54 L515.48,22.55 L518.65,22.57 L521.82,22.61 L524.98,22.67 L528.15,22.80 L531.31,23.05 L533.74,23.38 L535.41,23.70 L536.71,24.01 L537.83,24.33 L538.95,24.69 L539.88,25.03 L540.81,25.40 L541.56,25.72 L542.30,26.06 L543.05,26.43 L543.79,26.82 L544.35,27.13 L544.91,27.44 L545.47,27.78 L546.03,28.12 L546.59,28.48 L547.14,28.85 L547.70,29.23 L548.26,29.62 L548.82,30.03 L549.38,30.45 L549.94,30.88 L550.50,31.33 L550.87,31.63 L551.24,31.94 L551.62,32.25 L551.99,32.57 L552.36,32.90 L552.73,33.23 L553.11,33.56 L553.48,33.91 L553.85,34.25 L554.22,34.60 L554.60,34.96 L554.97,35.33 L555.34,35.69 L555.71,36.07 L556.09,36.45 L556.46,36.83 L556.83,37.22 L557.20,37.61 L557.58,38.01 L557.95,38.42 L558.32,38.83 L558.69,39.25 L559.07,39.67 L559.44,40.09 L559.81,40.52 L560.18,40.96 L560.56,41.40 L560.93,41.85 L561.30,42.30 L561.67,42.75 L562.05,43.21 L562.42,43.68 L562.79,44.15 L563.16,44.62 L563.54,45.10 L563.91,45.59 L564.28,46.08 L564.65,46.57 L565.02,47.07 L565.40,47.58 L565.77,48.09 L566.14,48.60 L566.51,49.12 L566.89,49.64 L567.26,50.17 L567.63,50.70 L568.00,51.24 L568.38,51.78 L568.75,52.32 L569.12,52.87 L569.50,53.42 L569.87,53.98 L570.24,54.54 L570.61,55.11 L570.99,55.68 L571.36,56.26 L571.73,56.84 L572.10,57.42 L572.48,58.01 L572.85,58.60 L573.22,59.20 L573.59,59.80 L573.78,60.10 L573.96,60.40 L574.15,60.70 L574.34,61.01 L574.52,61.31 L574.71,61.62 L574.90,61.93 L575.08,62.24 L575.27,62.55 L575.45,62.86 L575.64,63.17 L575.83,63.48 L576.01,63.79 L576.20,64.11 L576.39,64.42 L576.57,64.74 L576.76,65.05 L576.94,65.37 L577.13,65.69 L577.32,66.01 L577.50,66.33 L577.69,66.65 L577.88,66.98 L578.06,67.30 L578.25,67.62 L578.43,67.95 L578.62,68.27 L578.81,68.60 L578.99,68.93 L579.18,69.26 L579.37,69.59 L579.55,69.92 L579.74,70.25 L579.92,70.58 L580.11,70.91 L580.30,71.25 L580.48,71.58 L580.67,71.92 L580.86,72.25 L581.04,72.59 L581.23,72.93 L581.41,73.27 L581.60,73.61 L581.79,73.95 L581.97,74.29 L582.16,74.63 L582.35,74.97 L582.53,75.32 L582.72,75.66 L582.90,76.01 L583.09,76.35 L583.28,76.70 L583.46,77.05 L583.65,77.39 L583.84,77.74 L584.02,78.09 L584.21,78.44 L584.39,78.79 L584.58,79.15 L584.77,79.50 L584.95,79.85 L585.14,80.21 L585.33,80.56 L585.51,80.92 L585.70,81.27 L585.88,81.63 L586.07,81.99 L586.26,82.35 L586.44,82.70 L586.63,83.06 L586.82,83.42 L587.00,83.79 L587.19,84.15 L587.38,84.51 L587.56,84.87 L587.75,85.24 L587.93,85.60 L588.12,85.97 L588.31,86.33 L588.49,86.70 L588.68,87.06 L588.87,87.43 L589.05,87.80 L589.24,88.17 L589.42,88.54 L589.61,88.91 L589.80,89.28 L589.98,89.65 L590.17,90.02 L590.36,90.39 L590.54,90.77 L590.73,91.14 L590.91,91.51 L591.10,91.89 L591.29,92.26 L591.47,92.64 L591.66,93.02 L591.85,93.39 L592.03,93.77 L592.22,94.15 L592.40,94.53 L592.59,94.90 L592.78,95.28 L592.96,95.66 L593.15,96.04 L593.34,96.42 L593.52,96.81 L593.71,97.19 L593.89,97.57 L594.08,97.95 L594.27,98.34 L594.45,98.72 L594.64,99.10 L594.83,99.49 L595.01,99.87 L595.20,100.26 L595.38,100.65 L595.57,101.03 L595.76,101.42 L595.94,101.81 L596.13,102.19 L596.32,102.58 L596.50,102.97 L596.69,103.36 L596.87,103.75 L597.06,104.14 L597.25,104.53 L597.43,104.92 L597.62,105.31 L597.81,105.70 L597.99,106.09 L598.18,106.48 L598.36,106.88 L598.55,107.27 L598.74,107.66 L598.92,108.06 L599.11,108.45 L599.30,108.84 L599.48,109.24 L599.67,109.63 L599.85,110.03 L600.04,110.42 L600.23,110.82 L600.41,111.21 L600.60,111.61 L600.79,112.01 L600.97,112.40 L601.16,112.80 L601.34,113.20 L601.53,113.59 L601.72,113.99 L601.90,114.39 L602.09,114.79 L602.27,115.19 L602.46,115.58 L602.65,115.98 L602.83,116.38 L603.02,116.78 L603.21,117.18 L603.39,117.58 L603.58,117.98 L603.76,118.38 L603.95,118.78 L604.14,119.18 L604.32,119.58 L604.51,119.98 L604.70,120.38 L604.88,120.78 L605.07,121.19 L605.25,121.59 L605.44,121.99 L605.63,122.39 L605.81,122.79 L606.00,123.19 L606.19,123.60 L606.37,124.00 L606.56,124.40 L606.75,124.80 L606.93,125.21 L607.12,125.61 L607.30,126.01 L607.49,126.41 L607.68,126.82 L607.86,127.22 L608.05,127.62 L608.24,128.03 L608.42,128.43 L608.61,128.83 L608.79,129.23 L608.98,129.64 L609.17,130.04 L609.35,130.44 L609.54,130.85 L609.73,131.25 L609.91,131.65 L610.10,132.06 L610.28,132.46 L610.47,132.86 L610.66,133.27 L610.84,133.67 L611.03,134.07 L611.22,134.48 L611.40,134.88 L611.59,135.28 L611.77,135.69 L611.96,136.09 L612.15,136.49 L612.33,136.90 L612.52,137.30 L612.70,137.70 L612.89,138.10 L613.08,138.51 L613.26,138.91 L613.45,139.31 L613.64,139.71 L613.82,140.12 L614.01,140.52 L614.19,140.92 L614.38,141.32 L614.57,141.72 L614.75,142.12 L614.94,142.53 L615.13,142.93 L615.31,143.33 L615.50,143.73 L615.68,144.13 L615.87,144.53 L616.06,144.93 L616.24,145.33 L616.43,145.73 L616.62,146.13 L616.80,146.53 L616.99,146.93 L617.17,147.33 L617.36,147.73 L617.55,148.13 L617.73,148.53 L617.92,148.92 L618.11,149.32 L618.29,149.72 L618.48,150.12 L618.66,150.52 L618.85,150.91 L619.04,151.31 L619.22,151.71 L619.41,152.10 L619.60,152.50 L619.78,152.89 L619.97,153.29 L620.15,153.68 L620.34,154.08 L620.53,154.47 L620.71,154.87 L620.90,155.26 L621.09,155.66 L621.27,156.05 L621.46,156.44 L621.64,156.83 L621.83,157.23 L622.02,157.62 L622.20,158.01 L622.39,158.40 L622.58,158.79 L622.76,159.18 L622.95,159.57 L623.13,159.96 L623.32,160.35 L623.51,160.74 L623.69,161.13 L623.88,161.52 L624.07,161.90 L624.25,162.29 L624.44,162.68 L624.62,163.06 L624.81,163.45 L625.00,163.84 L625.18,164.22 L625.37,164.60 L625.56,164.99 L625.74,165.37 L625.93,165.76 L626.12,166.14 L626.30,166.52 L626.49,166.90 L626.67,167.28 L626.86,167.66 L627.05,168.04 L627.23,168.42 L627.42,168.80 L627.61,169.18 L627.79,169.56 L627.98,169.94 L628.16,170.32 L628.35,170.69 L628.54,171.07 L628.72,171.44 L628.91,171.82 L629.10,172.19 L629.28,172.57 L629.47,172.94 L629.65,173.31 L629.84,173.69 L630.03,174.06 L630.21,174.43 L630.40,174.80 L630.59,175.17 L630.77,175.54 L630.96,175.91 L631.14,176.27 L631.33,176.64 L631.52,177.01 L631.70,177.37 L631.89,177.74 L632.08,178.11 L632.26,178.47 L632.45,178.83 L632.63,179.20 L632.82,179.56 L633.01,179.92 L633.19,180.28 L633.38,180.64 L633.57,181.00 L633.75,181.36 L633.94,181.72 L634.12,182.07 L634.31,182.43 L634.50,182.79 L634.68,183.14 L634.87,183.50 L635.06,183.85 L635.24,184.21 L635.43,184.56 L635.61,184.91 L635.80,185.26 L635.99,185.61 L636.17,185.96 L636.36,186.31 L636.55,186.66 L636.73,187.00 L636.92,187.35 L637.10,187.70 L637.29,188.04 L637.48,188.39 L637.66,188.73 L637.85,189.07 L638.04,189.41 L638.22,189.75 L638.41,190.10 L638.59,190.43 L638.78,190.77 L638.97,191.11 L639.15,191.45 L639.34,191.78 L639.53,192.12 L639.71,192.45 L639.90,192.79 L640.08,193.12 L640.27,193.45 L640.46,193.78 L640.64,194.11 L640.83,194.44 L641.01,194.77 L641.20,195.10 L641.39,195.43 L641.57,195.75 L641.76,196.08 L641.95,196.40 L642.13,196.72 L642.32,197.05 L642.50,197.37 L642.69,197.69 L642.88,198.01 L643.06,198.33 L643.25,198.64 L643.44,198.96 L643.62,199.28 L643.81,199.59 L644.00,199.90 L644.18,200.22 L644.37,200.53 L644.55,200.84 L644.74,201.15 L644.93,201.46 L645.11,201.77 L645.30,202.08 L645.49,202.38 L645.67,202.69 L645.86,202.99 L646.04,203.29 L646.23,203.60 L646.42,203.90 L646.60,204.20 L646.98,204.80 L647.35,205.39 L647.72,205.98 L648.09,206.56 L648.47,207.14 L648.84,207.72 L649.21,208.29 L649.58,208.86 L649.95,209.43 L650.33,209.99 L650.70,210.54 L651.07,211.09 L651.44,211.64 L651.82,212.18 L652.19,212.72 L652.56,213.25 L652.93,213.78 L653.31,214.31 L653.68,214.83 L654.05,215.34 L654.42,215.85 L654.80,216.36 L655.17,216.86 L655.54,217.35 L655.91,217.85 L656.29,218.33 L656.66,218.82 L657.03,219.29 L657.40,219.76 L657.78,220.23 L658.15,220.69 L658.52,221.15 L658.89,221.60 L659.27,222.05 L659.64,222.49 L660.01,222.93 L660.38,223.36 L660.76,223.79 L661.13,224.21 L661.50,224.63 L661.88,225.04 L662.25,225.45 L662.62,225.85 L662.62,225.85 L663.06,226.36 L663.62,227.05 L664.29,227.87 L665.02,228.75 L665.79,229.66 L666.56,230.54 L667.31,231.33 L668.00,232.00 L668.64,232.55 L669.27,233.03 L669.89,233.46 L670.50,233.84 L671.11,234.20 L671.73,234.53 L672.36,234.86 L673.00,235.20 L673.68,235.54 L674.40,235.88 L675.14,236.20 L675.88,236.51 L676.60,236.79 L677.27,237.06 L677.88,237.30 L678.40,237.50 L678.83,237.67 L679.21,237.80 L679.52,237.91 L679.79,237.99 L680.01,238.06 L680.20,238.11 L680.36,238.16 L680.50,238.20" stroke="#3434d6" stroke-width="1.25"/>
</g>
<path d="M382.5,1 H680.8 V240.0" fill="none" stroke="#8a8a8a" stroke-width="2"/>
<path d="M382.5,0 V240.0 H680.5" fill="none" stroke="#000" stroke-width="1.1"/>
<path d="M382.5,240.00 h8.0 M382.5,229.12 h4.5 M382.5,218.25 h4.5 M382.5,207.38 h4.5 M382.5,196.50 h8.0 M382.5,185.62 h4.5 M382.5,174.75 h4.5 M382.5,163.88 h4.5 M382.5,153.00 h8.0 M382.5,142.12 h4.5 M382.5,131.25 h4.5 M382.5,120.37 h4.5 M382.5,109.50 h8.0 M382.5,98.62 h4.5 M382.5,87.75 h4.5 M382.5,76.88 h4.5 M382.5,66.00 h8.0 M382.5,55.12 h4.5 M382.5,44.25 h4.5 M382.5,33.37 h4.5 M382.5,22.50 h8.0 M382.5,11.62 h4.5 M382.5,0.75 h4.5 M382.50,240.0 v-6.0 M389.95,240.0 v-3.5 M397.40,240.0 v-3.5 M404.85,240.0 v-3.5 M412.30,240.0 v-6.0 M419.75,240.0 v-3.5 M427.20,240.0 v-3.5 M434.65,240.0 v-3.5 M442.10,240.0 v-6.0 M449.55,240.0 v-3.5 M457.00,240.0 v-3.5 M464.45,240.0 v-3.5 M471.90,240.0 v-6.0 M479.35,240.0 v-3.5 M486.80,240.0 v-3.5 M494.25,240.0 v-3.5 M501.70,240.0 v-6.0 M509.15,240.0 v-3.5 M516.60,240.0 v-3.5 M524.05,240.0 v-3.5 M531.50,240.0 v-6.0 M538.95,240.0 v-3.5 M546.40,240.0 v-3.5 M553.85,240.0 v-3.5 M561.30,240.0 v-6.0 M568.75,240.0 v-3.5 M576.20,240.0 v-3.5 M583.65,240.0 v-3.5 M591.10,240.0 v-6.0 M598.55,240.0 v-3.5 M606.00,240.0 v-3.5 M613.45,240.0 v-3.5 M620.90,240.0 v-6.0 M628.35,240.0 v-3.5 M635.80,240.0 v-3.5 M643.25,240.0 v-3.5 M650.70,240.0 v-6.0 M658.15,240.0 v-3.5 M665.60,240.0 v-3.5 M673.05,240.0 v-3.5 M680.50,240.0 v-6.0" stroke="#000" stroke-width="1" fill="none"/>
<text x="381.0" y="244.8" font-family="Liberation Serif" font-weight="bold" font-size="12.5" text-anchor="end">0</text>
<text x="381.0" y="201.3" font-family="Liberation Serif" font-weight="bold" font-size="12.5" text-anchor="end">0.2</text>
<text x="381.0" y="157.8" font-family="Liberation Serif" font-weight="bold" font-size="12.5" text-anchor="end">0.4</text>
<text x="381.0" y="114.3" font-family="Liberation Serif" font-weight="bold" font-size="12.5" text-anchor="end">0.6</text>
<text x="381.0" y="70.8" font-family="Liberation Serif" font-weight="bold" font-size="12.5" text-anchor="end">0.8</text>
<text x="381.0" y="27.3" font-family="Liberation Serif" font-weight="bold" font-size="12.5" text-anchor="end">1</text>
<text x="382.5" y="253.0" font-family="Liberation Serif" font-weight="bold" font-size="12.5" text-anchor="middle">&#8211;1</text>
<text x="412.3" y="253.0" font-family="Liberation Serif" font-weight="bold" font-size="12.5" text-anchor="middle">&#8211;0.8</text>
<text x="442.1" y="253.0" font-family="Liberation Serif" font-weight="bold" font-size="12.5" text-anchor="middle">&#8211;0.6</text>
<text x="471.9" y="253.0" font-family="Liberation Serif" font-weight="bold" font-size="12.5" text-anchor="middle">&#8211;0.4</text>
<text x="501.7" y="253.0" font-family="Liberation Serif" font-weight="bold" font-size="12.5" text-anchor="middle">&#8211;0.2</text>
<text x="531.5" y="253.0" font-family="Liberation Serif" font-weight="bold" font-size="12.5" text-anchor="middle">0</text>
<text x="561.3" y="253.0" font-family="Liberation Serif" font-weight="bold" font-size="12.5" text-anchor="middle">0.2</text>
<text x="591.1" y="253.0" font-family="Liberation Serif" font-weight="bold" font-size="12.5" text-anchor="middle">0.4</text>
<text x="620.9" y="253.0" font-family="Liberation Serif" font-weight="bold" font-size="12.5" text-anchor="middle">0.6</text>
<text x="650.7" y="253.0" font-family="Liberation Serif" font-weight="bold" font-size="12.5" text-anchor="middle">0.8</text>
<text x="680.5" y="253.0" font-family="Liberation Serif" font-weight="bold" font-size="12.5" text-anchor="middle">1</text>
<text x="516.4" y="267.8" font-family="Liberation Serif" font-weight="bold" font-size="14">cos<tspan font-weight="normal">&#952;</tspan><tspan font-size="10" dy="3" font-weight="normal">&#957;</tspan></text>
<text transform="translate(350.4,132.6) rotate(-90)" font-family="Liberation Serif" font-weight="bold" font-size="13">P<tspan font-size="8.5" dy="2.6" dx="-0.8" font-weight="normal">&#956;&#956;</tspan></text>
<text x="582.3" y="54.5" font-family="Liberation Serif" font-weight="bold" font-size="10.8" fill="#1414cc">22 GeV</text>
<text x="514.8" y="136.3" font-family="Liberation Serif" font-weight="bold" font-size="10.8" fill="#a01c1c">10 GeV</text>
</svg>
</body></html>
